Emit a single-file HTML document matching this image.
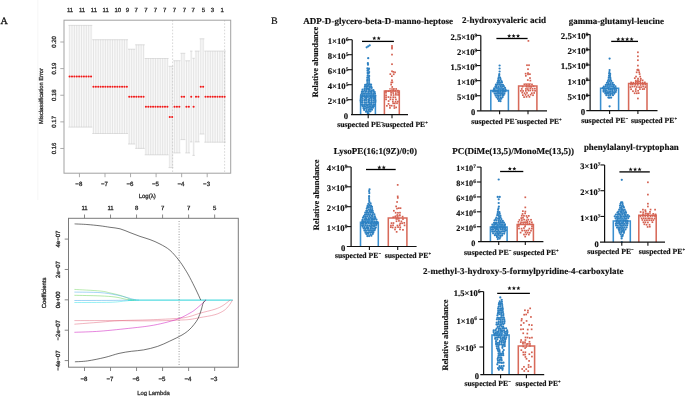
<!DOCTYPE html>
<html><head><meta charset="utf-8"><style>
html,body{margin:0;padding:0;background:#fff;}
svg{display:block;text-rendering:geometricPrecision;will-change:transform;}
g.tb text{stroke:#111;stroke-width:0.16px;}
</style></head><body>
<svg width="685" height="396" viewBox="0 0 685 396">
<rect width="685" height="396" fill="#fff"/>
<text x="4.2" y="23.9" style="font-family:'Liberation Serif',serif;font-size:10px;font-weight:normal" text-anchor="middle" fill="#111" stroke="#111" stroke-width="0.3">A</text>
<line x1="37.8" y1="0" x2="37.8" y2="200" stroke="#f4f4f4" stroke-width="0.8"/>
<rect x="68.41" y="25.4" width="23.85" height="101.7" fill="#f8f8f8"/>
<rect x="92.26" y="39.7" width="35.78" height="93.8" fill="#f8f8f8"/>
<rect x="128.03" y="49.2" width="7.16" height="94.8" fill="#f8f8f8"/>
<rect x="135.19" y="44.8" width="9.54" height="103.6" fill="#f8f8f8"/>
<rect x="144.73" y="58.5" width="23.85" height="96.3" fill="#f8f8f8"/>
<rect x="168.58" y="66.3" width="4.77" height="101.3" fill="#f8f8f8"/>
<rect x="173.35" y="60.7" width="7.16" height="92.2" fill="#f8f8f8"/>
<rect x="180.5" y="53.3" width="4.77" height="86.3" fill="#f8f8f8"/>
<rect x="185.27" y="60.8" width="4.77" height="92.1" fill="#f8f8f8"/>
<rect x="190.04" y="51.1" width="2.38" height="90.8" fill="#f8f8f8"/>
<rect x="192.43" y="58.3" width="2.38" height="97.1" fill="#f8f8f8"/>
<rect x="194.81" y="51.1" width="4.77" height="90.8" fill="#f8f8f8"/>
<rect x="199.58" y="38.8" width="4.77" height="95.2" fill="#f8f8f8"/>
<rect x="204.35" y="51.1" width="21.46" height="91.1" fill="#f8f8f8"/>
<line x1="69.6" y1="25.4" x2="69.6" y2="127.1" stroke="#d6d6d6" stroke-width="0.6"/>
<line x1="68.4" y1="25.4" x2="70.8" y2="25.4" stroke="#cfcfcf" stroke-width="0.7"/>
<line x1="68.4" y1="127.1" x2="70.8" y2="127.1" stroke="#cfcfcf" stroke-width="0.7"/>
<line x1="71.98" y1="25.4" x2="71.98" y2="127.1" stroke="#d6d6d6" stroke-width="0.6"/>
<line x1="70.78" y1="25.4" x2="73.19" y2="25.4" stroke="#cfcfcf" stroke-width="0.7"/>
<line x1="70.78" y1="127.1" x2="73.19" y2="127.1" stroke="#cfcfcf" stroke-width="0.7"/>
<line x1="74.37" y1="25.4" x2="74.37" y2="127.1" stroke="#d6d6d6" stroke-width="0.6"/>
<line x1="73.17" y1="25.4" x2="75.57" y2="25.4" stroke="#cfcfcf" stroke-width="0.7"/>
<line x1="73.17" y1="127.1" x2="75.57" y2="127.1" stroke="#cfcfcf" stroke-width="0.7"/>
<line x1="76.75" y1="25.4" x2="76.75" y2="127.1" stroke="#d6d6d6" stroke-width="0.6"/>
<line x1="75.55" y1="25.4" x2="77.95" y2="25.4" stroke="#cfcfcf" stroke-width="0.7"/>
<line x1="75.55" y1="127.1" x2="77.95" y2="127.1" stroke="#cfcfcf" stroke-width="0.7"/>
<line x1="79.14" y1="25.4" x2="79.14" y2="127.1" stroke="#d6d6d6" stroke-width="0.6"/>
<line x1="77.94" y1="25.4" x2="80.34" y2="25.4" stroke="#cfcfcf" stroke-width="0.7"/>
<line x1="77.94" y1="127.1" x2="80.34" y2="127.1" stroke="#cfcfcf" stroke-width="0.7"/>
<line x1="81.52" y1="25.4" x2="81.52" y2="127.1" stroke="#d6d6d6" stroke-width="0.6"/>
<line x1="80.32" y1="25.4" x2="82.72" y2="25.4" stroke="#cfcfcf" stroke-width="0.7"/>
<line x1="80.32" y1="127.1" x2="82.72" y2="127.1" stroke="#cfcfcf" stroke-width="0.7"/>
<line x1="83.91" y1="25.4" x2="83.91" y2="127.1" stroke="#d6d6d6" stroke-width="0.6"/>
<line x1="82.71" y1="25.4" x2="85.11" y2="25.4" stroke="#cfcfcf" stroke-width="0.7"/>
<line x1="82.71" y1="127.1" x2="85.11" y2="127.1" stroke="#cfcfcf" stroke-width="0.7"/>
<line x1="86.29" y1="25.4" x2="86.29" y2="127.1" stroke="#d6d6d6" stroke-width="0.6"/>
<line x1="85.09" y1="25.4" x2="87.49" y2="25.4" stroke="#cfcfcf" stroke-width="0.7"/>
<line x1="85.09" y1="127.1" x2="87.49" y2="127.1" stroke="#cfcfcf" stroke-width="0.7"/>
<line x1="88.68" y1="25.4" x2="88.68" y2="127.1" stroke="#d6d6d6" stroke-width="0.6"/>
<line x1="87.48" y1="25.4" x2="89.88" y2="25.4" stroke="#cfcfcf" stroke-width="0.7"/>
<line x1="87.48" y1="127.1" x2="89.88" y2="127.1" stroke="#cfcfcf" stroke-width="0.7"/>
<line x1="91.06" y1="25.4" x2="91.06" y2="127.1" stroke="#d6d6d6" stroke-width="0.6"/>
<line x1="89.86" y1="25.4" x2="92.27" y2="25.4" stroke="#cfcfcf" stroke-width="0.7"/>
<line x1="89.86" y1="127.1" x2="92.27" y2="127.1" stroke="#cfcfcf" stroke-width="0.7"/>
<line x1="93.45" y1="39.7" x2="93.45" y2="133.5" stroke="#d6d6d6" stroke-width="0.6"/>
<line x1="92.25" y1="39.7" x2="94.65" y2="39.7" stroke="#cfcfcf" stroke-width="0.7"/>
<line x1="92.25" y1="133.5" x2="94.65" y2="133.5" stroke="#cfcfcf" stroke-width="0.7"/>
<line x1="95.83" y1="39.7" x2="95.83" y2="133.5" stroke="#d6d6d6" stroke-width="0.6"/>
<line x1="94.63" y1="39.7" x2="97.03" y2="39.7" stroke="#cfcfcf" stroke-width="0.7"/>
<line x1="94.63" y1="133.5" x2="97.03" y2="133.5" stroke="#cfcfcf" stroke-width="0.7"/>
<line x1="98.22" y1="39.7" x2="98.22" y2="133.5" stroke="#d6d6d6" stroke-width="0.6"/>
<line x1="97.02" y1="39.7" x2="99.42" y2="39.7" stroke="#cfcfcf" stroke-width="0.7"/>
<line x1="97.02" y1="133.5" x2="99.42" y2="133.5" stroke="#cfcfcf" stroke-width="0.7"/>
<line x1="100.6" y1="39.7" x2="100.6" y2="133.5" stroke="#d6d6d6" stroke-width="0.6"/>
<line x1="99.4" y1="39.7" x2="101.8" y2="39.7" stroke="#cfcfcf" stroke-width="0.7"/>
<line x1="99.4" y1="133.5" x2="101.8" y2="133.5" stroke="#cfcfcf" stroke-width="0.7"/>
<line x1="102.99" y1="39.7" x2="102.99" y2="133.5" stroke="#d6d6d6" stroke-width="0.6"/>
<line x1="101.79" y1="39.7" x2="104.19" y2="39.7" stroke="#cfcfcf" stroke-width="0.7"/>
<line x1="101.79" y1="133.5" x2="104.19" y2="133.5" stroke="#cfcfcf" stroke-width="0.7"/>
<line x1="105.38" y1="39.7" x2="105.38" y2="133.5" stroke="#d6d6d6" stroke-width="0.6"/>
<line x1="104.17" y1="39.7" x2="106.58" y2="39.7" stroke="#cfcfcf" stroke-width="0.7"/>
<line x1="104.17" y1="133.5" x2="106.58" y2="133.5" stroke="#cfcfcf" stroke-width="0.7"/>
<line x1="107.76" y1="39.7" x2="107.76" y2="133.5" stroke="#d6d6d6" stroke-width="0.6"/>
<line x1="106.56" y1="39.7" x2="108.96" y2="39.7" stroke="#cfcfcf" stroke-width="0.7"/>
<line x1="106.56" y1="133.5" x2="108.96" y2="133.5" stroke="#cfcfcf" stroke-width="0.7"/>
<line x1="110.14" y1="39.7" x2="110.14" y2="133.5" stroke="#d6d6d6" stroke-width="0.6"/>
<line x1="108.94" y1="39.7" x2="111.34" y2="39.7" stroke="#cfcfcf" stroke-width="0.7"/>
<line x1="108.94" y1="133.5" x2="111.34" y2="133.5" stroke="#cfcfcf" stroke-width="0.7"/>
<line x1="112.53" y1="39.7" x2="112.53" y2="133.5" stroke="#d6d6d6" stroke-width="0.6"/>
<line x1="111.33" y1="39.7" x2="113.73" y2="39.7" stroke="#cfcfcf" stroke-width="0.7"/>
<line x1="111.33" y1="133.5" x2="113.73" y2="133.5" stroke="#cfcfcf" stroke-width="0.7"/>
<line x1="114.91" y1="39.7" x2="114.91" y2="133.5" stroke="#d6d6d6" stroke-width="0.6"/>
<line x1="113.71" y1="39.7" x2="116.11" y2="39.7" stroke="#cfcfcf" stroke-width="0.7"/>
<line x1="113.71" y1="133.5" x2="116.11" y2="133.5" stroke="#cfcfcf" stroke-width="0.7"/>
<line x1="117.3" y1="39.7" x2="117.3" y2="133.5" stroke="#d6d6d6" stroke-width="0.6"/>
<line x1="116.1" y1="39.7" x2="118.5" y2="39.7" stroke="#cfcfcf" stroke-width="0.7"/>
<line x1="116.1" y1="133.5" x2="118.5" y2="133.5" stroke="#cfcfcf" stroke-width="0.7"/>
<line x1="119.68" y1="39.7" x2="119.68" y2="133.5" stroke="#d6d6d6" stroke-width="0.6"/>
<line x1="118.48" y1="39.7" x2="120.88" y2="39.7" stroke="#cfcfcf" stroke-width="0.7"/>
<line x1="118.48" y1="133.5" x2="120.88" y2="133.5" stroke="#cfcfcf" stroke-width="0.7"/>
<line x1="122.07" y1="39.7" x2="122.07" y2="133.5" stroke="#d6d6d6" stroke-width="0.6"/>
<line x1="120.87" y1="39.7" x2="123.27" y2="39.7" stroke="#cfcfcf" stroke-width="0.7"/>
<line x1="120.87" y1="133.5" x2="123.27" y2="133.5" stroke="#cfcfcf" stroke-width="0.7"/>
<line x1="124.45" y1="39.7" x2="124.45" y2="133.5" stroke="#d6d6d6" stroke-width="0.6"/>
<line x1="123.25" y1="39.7" x2="125.65" y2="39.7" stroke="#cfcfcf" stroke-width="0.7"/>
<line x1="123.25" y1="133.5" x2="125.65" y2="133.5" stroke="#cfcfcf" stroke-width="0.7"/>
<line x1="126.84" y1="39.7" x2="126.84" y2="133.5" stroke="#d6d6d6" stroke-width="0.6"/>
<line x1="125.64" y1="39.7" x2="128.04" y2="39.7" stroke="#cfcfcf" stroke-width="0.7"/>
<line x1="125.64" y1="133.5" x2="128.04" y2="133.5" stroke="#cfcfcf" stroke-width="0.7"/>
<line x1="129.22" y1="49.2" x2="129.22" y2="144" stroke="#d6d6d6" stroke-width="0.6"/>
<line x1="128.03" y1="49.2" x2="130.42" y2="49.2" stroke="#cfcfcf" stroke-width="0.7"/>
<line x1="128.03" y1="144" x2="130.42" y2="144" stroke="#cfcfcf" stroke-width="0.7"/>
<line x1="131.61" y1="49.2" x2="131.61" y2="144" stroke="#d6d6d6" stroke-width="0.6"/>
<line x1="130.41" y1="49.2" x2="132.81" y2="49.2" stroke="#cfcfcf" stroke-width="0.7"/>
<line x1="130.41" y1="144" x2="132.81" y2="144" stroke="#cfcfcf" stroke-width="0.7"/>
<line x1="134" y1="49.2" x2="134" y2="144" stroke="#d6d6d6" stroke-width="0.6"/>
<line x1="132.8" y1="49.2" x2="135.19" y2="49.2" stroke="#cfcfcf" stroke-width="0.7"/>
<line x1="132.8" y1="144" x2="135.19" y2="144" stroke="#cfcfcf" stroke-width="0.7"/>
<line x1="136.38" y1="44.8" x2="136.38" y2="148.4" stroke="#d6d6d6" stroke-width="0.6"/>
<line x1="135.18" y1="44.8" x2="137.58" y2="44.8" stroke="#cfcfcf" stroke-width="0.7"/>
<line x1="135.18" y1="148.4" x2="137.58" y2="148.4" stroke="#cfcfcf" stroke-width="0.7"/>
<line x1="138.76" y1="44.8" x2="138.76" y2="148.4" stroke="#d6d6d6" stroke-width="0.6"/>
<line x1="137.56" y1="44.8" x2="139.96" y2="44.8" stroke="#cfcfcf" stroke-width="0.7"/>
<line x1="137.56" y1="148.4" x2="139.96" y2="148.4" stroke="#cfcfcf" stroke-width="0.7"/>
<line x1="141.15" y1="44.8" x2="141.15" y2="148.4" stroke="#d6d6d6" stroke-width="0.6"/>
<line x1="139.95" y1="44.8" x2="142.35" y2="44.8" stroke="#cfcfcf" stroke-width="0.7"/>
<line x1="139.95" y1="148.4" x2="142.35" y2="148.4" stroke="#cfcfcf" stroke-width="0.7"/>
<line x1="143.53" y1="44.8" x2="143.53" y2="148.4" stroke="#d6d6d6" stroke-width="0.6"/>
<line x1="142.33" y1="44.8" x2="144.73" y2="44.8" stroke="#cfcfcf" stroke-width="0.7"/>
<line x1="142.33" y1="148.4" x2="144.73" y2="148.4" stroke="#cfcfcf" stroke-width="0.7"/>
<line x1="145.92" y1="58.5" x2="145.92" y2="154.8" stroke="#d6d6d6" stroke-width="0.6"/>
<line x1="144.72" y1="58.5" x2="147.12" y2="58.5" stroke="#cfcfcf" stroke-width="0.7"/>
<line x1="144.72" y1="154.8" x2="147.12" y2="154.8" stroke="#cfcfcf" stroke-width="0.7"/>
<line x1="148.31" y1="58.5" x2="148.31" y2="154.8" stroke="#d6d6d6" stroke-width="0.6"/>
<line x1="147.11" y1="58.5" x2="149.5" y2="58.5" stroke="#cfcfcf" stroke-width="0.7"/>
<line x1="147.11" y1="154.8" x2="149.5" y2="154.8" stroke="#cfcfcf" stroke-width="0.7"/>
<line x1="150.69" y1="58.5" x2="150.69" y2="154.8" stroke="#d6d6d6" stroke-width="0.6"/>
<line x1="149.49" y1="58.5" x2="151.89" y2="58.5" stroke="#cfcfcf" stroke-width="0.7"/>
<line x1="149.49" y1="154.8" x2="151.89" y2="154.8" stroke="#cfcfcf" stroke-width="0.7"/>
<line x1="153.07" y1="58.5" x2="153.07" y2="154.8" stroke="#d6d6d6" stroke-width="0.6"/>
<line x1="151.88" y1="58.5" x2="154.27" y2="58.5" stroke="#cfcfcf" stroke-width="0.7"/>
<line x1="151.88" y1="154.8" x2="154.27" y2="154.8" stroke="#cfcfcf" stroke-width="0.7"/>
<line x1="155.46" y1="58.5" x2="155.46" y2="154.8" stroke="#d6d6d6" stroke-width="0.6"/>
<line x1="154.26" y1="58.5" x2="156.66" y2="58.5" stroke="#cfcfcf" stroke-width="0.7"/>
<line x1="154.26" y1="154.8" x2="156.66" y2="154.8" stroke="#cfcfcf" stroke-width="0.7"/>
<line x1="157.84" y1="58.5" x2="157.84" y2="154.8" stroke="#d6d6d6" stroke-width="0.6"/>
<line x1="156.64" y1="58.5" x2="159.04" y2="58.5" stroke="#cfcfcf" stroke-width="0.7"/>
<line x1="156.64" y1="154.8" x2="159.04" y2="154.8" stroke="#cfcfcf" stroke-width="0.7"/>
<line x1="160.23" y1="58.5" x2="160.23" y2="154.8" stroke="#d6d6d6" stroke-width="0.6"/>
<line x1="159.03" y1="58.5" x2="161.43" y2="58.5" stroke="#cfcfcf" stroke-width="0.7"/>
<line x1="159.03" y1="154.8" x2="161.43" y2="154.8" stroke="#cfcfcf" stroke-width="0.7"/>
<line x1="162.61" y1="58.5" x2="162.61" y2="154.8" stroke="#d6d6d6" stroke-width="0.6"/>
<line x1="161.41" y1="58.5" x2="163.81" y2="58.5" stroke="#cfcfcf" stroke-width="0.7"/>
<line x1="161.41" y1="154.8" x2="163.81" y2="154.8" stroke="#cfcfcf" stroke-width="0.7"/>
<line x1="165" y1="58.5" x2="165" y2="154.8" stroke="#d6d6d6" stroke-width="0.6"/>
<line x1="163.8" y1="58.5" x2="166.2" y2="58.5" stroke="#cfcfcf" stroke-width="0.7"/>
<line x1="163.8" y1="154.8" x2="166.2" y2="154.8" stroke="#cfcfcf" stroke-width="0.7"/>
<line x1="167.38" y1="58.5" x2="167.38" y2="154.8" stroke="#d6d6d6" stroke-width="0.6"/>
<line x1="166.19" y1="58.5" x2="168.58" y2="58.5" stroke="#cfcfcf" stroke-width="0.7"/>
<line x1="166.19" y1="154.8" x2="168.58" y2="154.8" stroke="#cfcfcf" stroke-width="0.7"/>
<line x1="169.77" y1="66.3" x2="169.77" y2="167.6" stroke="#d6d6d6" stroke-width="0.6"/>
<line x1="168.57" y1="66.3" x2="170.97" y2="66.3" stroke="#cfcfcf" stroke-width="0.7"/>
<line x1="168.57" y1="167.6" x2="170.97" y2="167.6" stroke="#cfcfcf" stroke-width="0.7"/>
<line x1="172.15" y1="66.3" x2="172.15" y2="167.6" stroke="#d6d6d6" stroke-width="0.6"/>
<line x1="170.95" y1="66.3" x2="173.35" y2="66.3" stroke="#cfcfcf" stroke-width="0.7"/>
<line x1="170.95" y1="167.6" x2="173.35" y2="167.6" stroke="#cfcfcf" stroke-width="0.7"/>
<line x1="174.54" y1="60.7" x2="174.54" y2="152.9" stroke="#d6d6d6" stroke-width="0.6"/>
<line x1="173.34" y1="60.7" x2="175.74" y2="60.7" stroke="#cfcfcf" stroke-width="0.7"/>
<line x1="173.34" y1="152.9" x2="175.74" y2="152.9" stroke="#cfcfcf" stroke-width="0.7"/>
<line x1="176.92" y1="60.7" x2="176.92" y2="152.9" stroke="#d6d6d6" stroke-width="0.6"/>
<line x1="175.72" y1="60.7" x2="178.12" y2="60.7" stroke="#cfcfcf" stroke-width="0.7"/>
<line x1="175.72" y1="152.9" x2="178.12" y2="152.9" stroke="#cfcfcf" stroke-width="0.7"/>
<line x1="179.31" y1="60.7" x2="179.31" y2="152.9" stroke="#d6d6d6" stroke-width="0.6"/>
<line x1="178.11" y1="60.7" x2="180.51" y2="60.7" stroke="#cfcfcf" stroke-width="0.7"/>
<line x1="178.11" y1="152.9" x2="180.51" y2="152.9" stroke="#cfcfcf" stroke-width="0.7"/>
<line x1="181.69" y1="53.3" x2="181.69" y2="139.6" stroke="#d6d6d6" stroke-width="0.6"/>
<line x1="180.5" y1="53.3" x2="182.89" y2="53.3" stroke="#cfcfcf" stroke-width="0.7"/>
<line x1="180.5" y1="139.6" x2="182.89" y2="139.6" stroke="#cfcfcf" stroke-width="0.7"/>
<line x1="184.08" y1="53.3" x2="184.08" y2="139.6" stroke="#d6d6d6" stroke-width="0.6"/>
<line x1="182.88" y1="53.3" x2="185.28" y2="53.3" stroke="#cfcfcf" stroke-width="0.7"/>
<line x1="182.88" y1="139.6" x2="185.28" y2="139.6" stroke="#cfcfcf" stroke-width="0.7"/>
<line x1="186.46" y1="60.8" x2="186.46" y2="152.9" stroke="#d6d6d6" stroke-width="0.6"/>
<line x1="185.26" y1="60.8" x2="187.66" y2="60.8" stroke="#cfcfcf" stroke-width="0.7"/>
<line x1="185.26" y1="152.9" x2="187.66" y2="152.9" stroke="#cfcfcf" stroke-width="0.7"/>
<line x1="188.85" y1="60.8" x2="188.85" y2="152.9" stroke="#d6d6d6" stroke-width="0.6"/>
<line x1="187.65" y1="60.8" x2="190.05" y2="60.8" stroke="#cfcfcf" stroke-width="0.7"/>
<line x1="187.65" y1="152.9" x2="190.05" y2="152.9" stroke="#cfcfcf" stroke-width="0.7"/>
<line x1="191.23" y1="51.1" x2="191.23" y2="141.9" stroke="#d6d6d6" stroke-width="0.6"/>
<line x1="190.03" y1="51.1" x2="192.43" y2="51.1" stroke="#cfcfcf" stroke-width="0.7"/>
<line x1="190.03" y1="141.9" x2="192.43" y2="141.9" stroke="#cfcfcf" stroke-width="0.7"/>
<line x1="193.62" y1="58.3" x2="193.62" y2="155.4" stroke="#d6d6d6" stroke-width="0.6"/>
<line x1="192.42" y1="58.3" x2="194.82" y2="58.3" stroke="#cfcfcf" stroke-width="0.7"/>
<line x1="192.42" y1="155.4" x2="194.82" y2="155.4" stroke="#cfcfcf" stroke-width="0.7"/>
<line x1="196" y1="51.1" x2="196" y2="141.9" stroke="#d6d6d6" stroke-width="0.6"/>
<line x1="194.81" y1="51.1" x2="197.2" y2="51.1" stroke="#cfcfcf" stroke-width="0.7"/>
<line x1="194.81" y1="141.9" x2="197.2" y2="141.9" stroke="#cfcfcf" stroke-width="0.7"/>
<line x1="198.39" y1="51.1" x2="198.39" y2="141.9" stroke="#d6d6d6" stroke-width="0.6"/>
<line x1="197.19" y1="51.1" x2="199.59" y2="51.1" stroke="#cfcfcf" stroke-width="0.7"/>
<line x1="197.19" y1="141.9" x2="199.59" y2="141.9" stroke="#cfcfcf" stroke-width="0.7"/>
<line x1="200.77" y1="38.8" x2="200.77" y2="134" stroke="#d6d6d6" stroke-width="0.6"/>
<line x1="199.57" y1="38.8" x2="201.97" y2="38.8" stroke="#cfcfcf" stroke-width="0.7"/>
<line x1="199.57" y1="134" x2="201.97" y2="134" stroke="#cfcfcf" stroke-width="0.7"/>
<line x1="203.16" y1="38.8" x2="203.16" y2="134" stroke="#d6d6d6" stroke-width="0.6"/>
<line x1="201.96" y1="38.8" x2="204.36" y2="38.8" stroke="#cfcfcf" stroke-width="0.7"/>
<line x1="201.96" y1="134" x2="204.36" y2="134" stroke="#cfcfcf" stroke-width="0.7"/>
<line x1="205.54" y1="51.1" x2="205.54" y2="142.2" stroke="#d6d6d6" stroke-width="0.6"/>
<line x1="204.34" y1="51.1" x2="206.74" y2="51.1" stroke="#cfcfcf" stroke-width="0.7"/>
<line x1="204.34" y1="142.2" x2="206.74" y2="142.2" stroke="#cfcfcf" stroke-width="0.7"/>
<line x1="207.93" y1="51.1" x2="207.93" y2="142.2" stroke="#d6d6d6" stroke-width="0.6"/>
<line x1="206.73" y1="51.1" x2="209.13" y2="51.1" stroke="#cfcfcf" stroke-width="0.7"/>
<line x1="206.73" y1="142.2" x2="209.13" y2="142.2" stroke="#cfcfcf" stroke-width="0.7"/>
<line x1="210.31" y1="51.1" x2="210.31" y2="142.2" stroke="#d6d6d6" stroke-width="0.6"/>
<line x1="209.11" y1="51.1" x2="211.51" y2="51.1" stroke="#cfcfcf" stroke-width="0.7"/>
<line x1="209.11" y1="142.2" x2="211.51" y2="142.2" stroke="#cfcfcf" stroke-width="0.7"/>
<line x1="212.7" y1="51.1" x2="212.7" y2="142.2" stroke="#d6d6d6" stroke-width="0.6"/>
<line x1="211.5" y1="51.1" x2="213.9" y2="51.1" stroke="#cfcfcf" stroke-width="0.7"/>
<line x1="211.5" y1="142.2" x2="213.9" y2="142.2" stroke="#cfcfcf" stroke-width="0.7"/>
<line x1="215.08" y1="51.1" x2="215.08" y2="142.2" stroke="#d6d6d6" stroke-width="0.6"/>
<line x1="213.88" y1="51.1" x2="216.28" y2="51.1" stroke="#cfcfcf" stroke-width="0.7"/>
<line x1="213.88" y1="142.2" x2="216.28" y2="142.2" stroke="#cfcfcf" stroke-width="0.7"/>
<line x1="217.47" y1="51.1" x2="217.47" y2="142.2" stroke="#d6d6d6" stroke-width="0.6"/>
<line x1="216.27" y1="51.1" x2="218.67" y2="51.1" stroke="#cfcfcf" stroke-width="0.7"/>
<line x1="216.27" y1="142.2" x2="218.67" y2="142.2" stroke="#cfcfcf" stroke-width="0.7"/>
<line x1="219.85" y1="51.1" x2="219.85" y2="142.2" stroke="#d6d6d6" stroke-width="0.6"/>
<line x1="218.66" y1="51.1" x2="221.05" y2="51.1" stroke="#cfcfcf" stroke-width="0.7"/>
<line x1="218.66" y1="142.2" x2="221.05" y2="142.2" stroke="#cfcfcf" stroke-width="0.7"/>
<line x1="222.24" y1="51.1" x2="222.24" y2="142.2" stroke="#d6d6d6" stroke-width="0.6"/>
<line x1="221.04" y1="51.1" x2="223.44" y2="51.1" stroke="#cfcfcf" stroke-width="0.7"/>
<line x1="221.04" y1="142.2" x2="223.44" y2="142.2" stroke="#cfcfcf" stroke-width="0.7"/>
<line x1="224.62" y1="51.1" x2="224.62" y2="142.2" stroke="#d6d6d6" stroke-width="0.6"/>
<line x1="223.42" y1="51.1" x2="225.82" y2="51.1" stroke="#cfcfcf" stroke-width="0.7"/>
<line x1="223.42" y1="142.2" x2="225.82" y2="142.2" stroke="#cfcfcf" stroke-width="0.7"/>
<line x1="172.6" y1="20" x2="172.6" y2="173.2" stroke="#b8b8b8" stroke-width="0.55" stroke-dasharray="1.6,1.6"/>
<line x1="224.6" y1="20" x2="224.6" y2="173.2" stroke="#b8b8b8" stroke-width="0.55" stroke-dasharray="1.6,1.6"/>
<circle cx="69.6" cy="76.5" r="1.05" fill="#f21818"/>
<circle cx="71.98" cy="76.5" r="1.05" fill="#f21818"/>
<circle cx="74.37" cy="76.5" r="1.05" fill="#f21818"/>
<circle cx="76.75" cy="76.5" r="1.05" fill="#f21818"/>
<circle cx="79.14" cy="76.5" r="1.05" fill="#f21818"/>
<circle cx="81.52" cy="76.5" r="1.05" fill="#f21818"/>
<circle cx="83.91" cy="76.5" r="1.05" fill="#f21818"/>
<circle cx="86.29" cy="76.5" r="1.05" fill="#f21818"/>
<circle cx="88.68" cy="76.5" r="1.05" fill="#f21818"/>
<circle cx="91.06" cy="76.5" r="1.05" fill="#f21818"/>
<circle cx="93.45" cy="86.7" r="1.05" fill="#f21818"/>
<circle cx="95.83" cy="86.7" r="1.05" fill="#f21818"/>
<circle cx="98.22" cy="86.7" r="1.05" fill="#f21818"/>
<circle cx="100.6" cy="86.7" r="1.05" fill="#f21818"/>
<circle cx="102.99" cy="86.7" r="1.05" fill="#f21818"/>
<circle cx="105.38" cy="86.7" r="1.05" fill="#f21818"/>
<circle cx="107.76" cy="86.7" r="1.05" fill="#f21818"/>
<circle cx="110.14" cy="86.7" r="1.05" fill="#f21818"/>
<circle cx="112.53" cy="86.7" r="1.05" fill="#f21818"/>
<circle cx="114.91" cy="86.7" r="1.05" fill="#f21818"/>
<circle cx="117.3" cy="86.7" r="1.05" fill="#f21818"/>
<circle cx="119.68" cy="86.7" r="1.05" fill="#f21818"/>
<circle cx="122.07" cy="86.7" r="1.05" fill="#f21818"/>
<circle cx="124.45" cy="86.7" r="1.05" fill="#f21818"/>
<circle cx="126.84" cy="86.7" r="1.05" fill="#f21818"/>
<circle cx="129.22" cy="96.7" r="1.05" fill="#f21818"/>
<circle cx="131.61" cy="96.7" r="1.05" fill="#f21818"/>
<circle cx="134" cy="96.7" r="1.05" fill="#f21818"/>
<circle cx="136.38" cy="96.7" r="1.05" fill="#f21818"/>
<circle cx="138.76" cy="96.7" r="1.05" fill="#f21818"/>
<circle cx="141.15" cy="96.7" r="1.05" fill="#f21818"/>
<circle cx="143.53" cy="96.7" r="1.05" fill="#f21818"/>
<circle cx="145.92" cy="106.8" r="1.05" fill="#f21818"/>
<circle cx="148.31" cy="106.8" r="1.05" fill="#f21818"/>
<circle cx="150.69" cy="106.8" r="1.05" fill="#f21818"/>
<circle cx="153.07" cy="106.8" r="1.05" fill="#f21818"/>
<circle cx="155.46" cy="106.8" r="1.05" fill="#f21818"/>
<circle cx="157.84" cy="106.8" r="1.05" fill="#f21818"/>
<circle cx="160.23" cy="106.8" r="1.05" fill="#f21818"/>
<circle cx="162.61" cy="106.8" r="1.05" fill="#f21818"/>
<circle cx="165" cy="106.8" r="1.05" fill="#f21818"/>
<circle cx="167.38" cy="106.8" r="1.05" fill="#f21818"/>
<circle cx="169.77" cy="117" r="1.05" fill="#f21818"/>
<circle cx="172.15" cy="117" r="1.05" fill="#f21818"/>
<circle cx="174.54" cy="106.8" r="1.05" fill="#f21818"/>
<circle cx="176.92" cy="106.8" r="1.05" fill="#f21818"/>
<circle cx="179.31" cy="106.8" r="1.05" fill="#f21818"/>
<circle cx="181.69" cy="96.7" r="1.05" fill="#f21818"/>
<circle cx="184.08" cy="96.7" r="1.05" fill="#f21818"/>
<circle cx="186.46" cy="106.8" r="1.05" fill="#f21818"/>
<circle cx="188.85" cy="106.8" r="1.05" fill="#f21818"/>
<circle cx="191.23" cy="96.7" r="1.05" fill="#f21818"/>
<circle cx="193.62" cy="106.8" r="1.05" fill="#f21818"/>
<circle cx="196" cy="96.7" r="1.05" fill="#f21818"/>
<circle cx="198.39" cy="96.7" r="1.05" fill="#f21818"/>
<circle cx="200.77" cy="86.7" r="1.05" fill="#f21818"/>
<circle cx="203.16" cy="86.7" r="1.05" fill="#f21818"/>
<circle cx="205.54" cy="96.7" r="1.05" fill="#f21818"/>
<circle cx="207.93" cy="96.7" r="1.05" fill="#f21818"/>
<circle cx="210.31" cy="96.7" r="1.05" fill="#f21818"/>
<circle cx="212.7" cy="96.7" r="1.05" fill="#f21818"/>
<circle cx="215.08" cy="96.7" r="1.05" fill="#f21818"/>
<circle cx="217.47" cy="96.7" r="1.05" fill="#f21818"/>
<circle cx="219.85" cy="96.7" r="1.05" fill="#f21818"/>
<circle cx="222.24" cy="96.7" r="1.05" fill="#f21818"/>
<circle cx="224.62" cy="96.7" r="1.05" fill="#f21818"/>
<rect x="64.0" y="20.2" width="166.7" height="153" fill="none" stroke="#a2a2a2" stroke-width="1"/>
<line x1="79.45" y1="173.2" x2="79.45" y2="177.2" stroke="#a2a2a2" stroke-width="0.9"/>
<text x="78.85" y="186.2" style="font-family:'Liberation Sans',sans-serif;font-size:6.1px;font-weight:normal" text-anchor="middle" fill="#2e2e2e" stroke="#2e2e2e" stroke-width="0.3">−8</text>
<line x1="105" y1="173.2" x2="105" y2="177.2" stroke="#a2a2a2" stroke-width="0.9"/>
<text x="104.4" y="186.2" style="font-family:'Liberation Sans',sans-serif;font-size:6.1px;font-weight:normal" text-anchor="middle" fill="#2e2e2e" stroke="#2e2e2e" stroke-width="0.3">−7</text>
<line x1="130.55" y1="173.2" x2="130.55" y2="177.2" stroke="#a2a2a2" stroke-width="0.9"/>
<text x="129.95" y="186.2" style="font-family:'Liberation Sans',sans-serif;font-size:6.1px;font-weight:normal" text-anchor="middle" fill="#2e2e2e" stroke="#2e2e2e" stroke-width="0.3">−6</text>
<line x1="156.1" y1="173.2" x2="156.1" y2="177.2" stroke="#a2a2a2" stroke-width="0.9"/>
<text x="155.5" y="186.2" style="font-family:'Liberation Sans',sans-serif;font-size:6.1px;font-weight:normal" text-anchor="middle" fill="#2e2e2e" stroke="#2e2e2e" stroke-width="0.3">−5</text>
<line x1="181.65" y1="173.2" x2="181.65" y2="177.2" stroke="#a2a2a2" stroke-width="0.9"/>
<text x="181.05" y="186.2" style="font-family:'Liberation Sans',sans-serif;font-size:6.1px;font-weight:normal" text-anchor="middle" fill="#2e2e2e" stroke="#2e2e2e" stroke-width="0.3">−4</text>
<line x1="207.2" y1="173.2" x2="207.2" y2="177.2" stroke="#a2a2a2" stroke-width="0.9"/>
<text x="206.6" y="186.2" style="font-family:'Liberation Sans',sans-serif;font-size:6.1px;font-weight:normal" text-anchor="middle" fill="#2e2e2e" stroke="#2e2e2e" stroke-width="0.3">−3</text>
<line x1="60.3" y1="42" x2="64" y2="42" stroke="#a2a2a2" stroke-width="0.9"/>
<text x="56" y="42" style="font-family:'Liberation Sans',sans-serif;font-size:6.0px;font-weight:normal" text-anchor="middle" fill="#2e2e2e" transform="rotate(-90 56 42)" stroke="#2e2e2e" stroke-width="0.3">0.20</text>
<line x1="60.3" y1="68.62" x2="64" y2="68.62" stroke="#a2a2a2" stroke-width="0.9"/>
<text x="56" y="68.62" style="font-family:'Liberation Sans',sans-serif;font-size:6.0px;font-weight:normal" text-anchor="middle" fill="#2e2e2e" transform="rotate(-90 56 68.62)" stroke="#2e2e2e" stroke-width="0.3">0.19</text>
<line x1="60.3" y1="95.24" x2="64" y2="95.24" stroke="#a2a2a2" stroke-width="0.9"/>
<text x="56" y="95.24" style="font-family:'Liberation Sans',sans-serif;font-size:6.0px;font-weight:normal" text-anchor="middle" fill="#2e2e2e" transform="rotate(-90 56 95.24)" stroke="#2e2e2e" stroke-width="0.3">0.18</text>
<line x1="60.3" y1="121.86" x2="64" y2="121.86" stroke="#a2a2a2" stroke-width="0.9"/>
<text x="56" y="121.86" style="font-family:'Liberation Sans',sans-serif;font-size:6.0px;font-weight:normal" text-anchor="middle" fill="#2e2e2e" transform="rotate(-90 56 121.86)" stroke="#2e2e2e" stroke-width="0.3">0.17</text>
<line x1="60.3" y1="148.48" x2="64" y2="148.48" stroke="#a2a2a2" stroke-width="0.9"/>
<text x="56" y="148.48" style="font-family:'Liberation Sans',sans-serif;font-size:6.0px;font-weight:normal" text-anchor="middle" fill="#2e2e2e" transform="rotate(-90 56 148.48)" stroke="#2e2e2e" stroke-width="0.3">0.16</text>
<text x="42.6" y="96" style="font-family:'Liberation Sans',sans-serif;font-size:5.8px;font-weight:normal" text-anchor="middle" fill="#2e2e2e" transform="rotate(-90 42.6 96)" textLength="56" lengthAdjust="spacingAndGlyphs" stroke="#2e2e2e" stroke-width="0.3">Misclassification Error</text>
<text x="147.2" y="198" style="font-family:'Liberation Sans',sans-serif;font-size:6.0px;font-weight:normal" text-anchor="middle" fill="#2e2e2e" stroke="#2e2e2e" stroke-width="0.3">Log(λ)</text>
<text x="70.1" y="12.3" style="font-family:'Liberation Sans',sans-serif;font-size:6.0px;font-weight:normal" text-anchor="middle" fill="#2e2e2e" stroke="#2e2e2e" stroke-width="0.3">11</text>
<text x="82.1" y="12.3" style="font-family:'Liberation Sans',sans-serif;font-size:6.0px;font-weight:normal" text-anchor="middle" fill="#2e2e2e" stroke="#2e2e2e" stroke-width="0.3">11</text>
<text x="93.9" y="12.3" style="font-family:'Liberation Sans',sans-serif;font-size:6.0px;font-weight:normal" text-anchor="middle" fill="#2e2e2e" stroke="#2e2e2e" stroke-width="0.3">11</text>
<text x="105.7" y="12.3" style="font-family:'Liberation Sans',sans-serif;font-size:6.0px;font-weight:normal" text-anchor="middle" fill="#2e2e2e" stroke="#2e2e2e" stroke-width="0.3">11</text>
<text x="117.8" y="12.3" style="font-family:'Liberation Sans',sans-serif;font-size:6.0px;font-weight:normal" text-anchor="middle" fill="#2e2e2e" stroke="#2e2e2e" stroke-width="0.3">10</text>
<text x="127.3" y="12.3" style="font-family:'Liberation Sans',sans-serif;font-size:6.0px;font-weight:normal" text-anchor="middle" fill="#2e2e2e" stroke="#2e2e2e" stroke-width="0.3">9</text>
<text x="136.2" y="12.3" style="font-family:'Liberation Sans',sans-serif;font-size:6.0px;font-weight:normal" text-anchor="middle" fill="#2e2e2e" stroke="#2e2e2e" stroke-width="0.3">7</text>
<text x="145.8" y="12.3" style="font-family:'Liberation Sans',sans-serif;font-size:6.0px;font-weight:normal" text-anchor="middle" fill="#2e2e2e" stroke="#2e2e2e" stroke-width="0.3">7</text>
<text x="155.5" y="12.3" style="font-family:'Liberation Sans',sans-serif;font-size:6.0px;font-weight:normal" text-anchor="middle" fill="#2e2e2e" stroke="#2e2e2e" stroke-width="0.3">7</text>
<text x="164.7" y="12.3" style="font-family:'Liberation Sans',sans-serif;font-size:6.0px;font-weight:normal" text-anchor="middle" fill="#2e2e2e" stroke="#2e2e2e" stroke-width="0.3">7</text>
<text x="174.4" y="12.3" style="font-family:'Liberation Sans',sans-serif;font-size:6.0px;font-weight:normal" text-anchor="middle" fill="#2e2e2e" stroke="#2e2e2e" stroke-width="0.3">7</text>
<text x="184.3" y="12.3" style="font-family:'Liberation Sans',sans-serif;font-size:6.0px;font-weight:normal" text-anchor="middle" fill="#2e2e2e" stroke="#2e2e2e" stroke-width="0.3">7</text>
<text x="193.2" y="12.3" style="font-family:'Liberation Sans',sans-serif;font-size:6.0px;font-weight:normal" text-anchor="middle" fill="#2e2e2e" stroke="#2e2e2e" stroke-width="0.3">7</text>
<text x="203.3" y="12.3" style="font-family:'Liberation Sans',sans-serif;font-size:6.0px;font-weight:normal" text-anchor="middle" fill="#2e2e2e" stroke="#2e2e2e" stroke-width="0.3">5</text>
<text x="212.5" y="12.3" style="font-family:'Liberation Sans',sans-serif;font-size:6.0px;font-weight:normal" text-anchor="middle" fill="#2e2e2e" stroke="#2e2e2e" stroke-width="0.3">3</text>
<text x="222.1" y="12.3" style="font-family:'Liberation Sans',sans-serif;font-size:6.0px;font-weight:normal" text-anchor="middle" fill="#2e2e2e" stroke="#2e2e2e" stroke-width="0.3">1</text>
<path d="M74.4,289.4 C78.67,289.67 94.07,290.42 100,291 C105.93,291.58 106.67,292.18 110,292.9 C113.33,293.62 117,294.42 120,295.3 C123,296.18 126,297.42 128,298.2 C130,298.98 130.67,299.68 132,300 C133.33,300.32 135.33,300.08 136,300.1" fill="none" stroke="#61D04F" stroke-width="0.8" stroke-opacity="0.55"/>
<path d="M74.4,292.1 C78.67,292.18 93.23,292.17 100,292.6 C106.77,293.03 110.83,293.97 115,294.7 C119.17,295.43 121.67,296.17 125,297 C128.33,297.83 132.67,299.18 135,299.7 C137.33,300.22 138.33,300.03 139,300.1" fill="none" stroke="#2297E6" stroke-width="0.8" stroke-opacity="0.5"/>
<path d="M74.4,295.3 C78.67,295.4 93.23,295.62 100,295.9 C106.77,296.18 110.83,296.47 115,297 C119.17,297.53 122.5,298.6 125,299.1 C127.5,299.6 128.5,299.83 130,300 C131.5,300.17 133.33,300.08 134,300.1" fill="none" stroke="#61D04F" stroke-width="0.8" stroke-opacity="0.6"/>
<path d="M74.4,300.5 C80.33,300.48 101.07,300.45 110,300.4 C118.93,300.35 125,300.23 128,300.2" fill="none" stroke="#2297E6" stroke-width="0.8" stroke-opacity="0.55"/>
<path d="M74.4,302.5 C80.33,302.47 101.57,302.55 110,302.3 C118.43,302.05 121.33,301.35 125,301 C128.67,300.65 130.83,300.33 132,300.2" fill="none" stroke="#28E2E5" stroke-width="0.8" stroke-opacity="0.6"/>
<line x1="128" y1="300.1" x2="232.8" y2="300.1" stroke="#28D2D8" stroke-width="1.0"/>
<path d="M74.4,320.6 C80.33,320.6 97.4,320.55 110,320.6 C122.6,320.65 138.5,320.98 150,320.9 C161.5,320.82 172.33,320.35 179,320.1 C185.67,319.85 186.5,319.82 190,319.4 C193.5,318.98 195.83,318.38 200,317.6 C204.17,316.82 211,315.88 215,314.7 C219,313.52 221.67,312.03 224,310.5 C226.33,308.97 227.58,307.25 229,305.5 C230.42,303.75 231.92,300.92 232.5,300" fill="none" stroke="#DF536B" stroke-width="0.8" stroke-opacity="0.55"/>
<path d="M74.4,324.2 C78.67,323.87 92.4,322.8 100,322.2 C107.6,321.6 111.67,321 120,320.6 C128.33,320.2 140.17,320.18 150,319.8 C159.83,319.42 172.33,318.87 179,318.3 C185.67,317.73 186.5,317.25 190,316.4 C193.5,315.55 195.83,314.4 200,313.2 C204.17,312 211.17,310.48 215,309.2 C218.83,307.92 220.47,307.03 223,305.5 C225.53,303.97 229,300.92 230.2,300" fill="none" stroke="#DF536B" stroke-width="0.8" stroke-opacity="0.55"/>
<path d="M74.4,332.3 C78.67,332.12 90.38,331.92 100,331.2 C109.62,330.48 123.77,328.9 132.1,328 C140.43,327.1 144.65,326.65 150,325.8 C155.35,324.95 159.37,324.1 164.2,322.9 C169.03,321.7 174.7,320.25 179,318.6 C183.3,316.95 187.32,314.48 190,313 C192.68,311.52 193.07,311.27 195.1,309.7 C197.13,308.13 200.35,305.22 202.2,303.6 C204.05,301.98 205.53,300.6 206.2,300" fill="none" stroke="#CD0BBC" stroke-width="0.8" stroke-opacity="0.62"/>
<path d="M74.6,223.9 C76.65,224 82.67,224.18 86.9,224.5 C91.13,224.82 96.15,225.33 100,225.8 C103.85,226.27 106.67,226.8 110,227.3 C113.33,227.8 116.67,227.92 120,228.8 C123.33,229.68 126.67,231.33 130,232.6 C133.33,233.87 136.67,235.23 140,236.4 C143.33,237.57 146.67,238.33 150,239.6 C153.33,240.87 156.67,242.22 160,244 C163.33,245.78 166.83,247.57 170,250.3 C173.17,253.03 176.5,257.25 179,260.4 C181.5,263.55 183.2,266.35 185,269.2 C186.8,272.05 187.95,274.03 189.8,277.5 C191.65,280.97 194.28,286.25 196.1,290 C197.92,293.75 199.93,298.33 200.7,300" fill="none" stroke="#222" stroke-width="0.8" stroke-opacity="0.8"/>
<path d="M74.9,361.8 C77,361.65 82.48,361.63 87.5,360.9 C92.52,360.17 99.75,358.65 105,357.4 C110.25,356.15 114.62,354.42 119,353.4 C123.38,352.38 127.2,351.88 131.3,351.3 C135.4,350.72 139.22,350.72 143.6,349.9 C147.98,349.08 153.23,347.87 157.6,346.4 C161.97,344.93 165.73,343 169.8,341.1 C173.87,339.2 178.8,336.85 182,335 C185.2,333.15 187,331.75 189,330 C191,328.25 192.48,326.42 194,324.5 C195.52,322.58 196.9,320.92 198.1,318.5 C199.3,316.08 200.35,312.58 201.2,310 C202.05,307.42 202.45,304.67 203.2,303 C203.95,301.33 205.28,300.5 205.7,300" fill="none" stroke="#222" stroke-width="0.8" stroke-opacity="0.8"/>
<line x1="179.1" y1="221" x2="179.1" y2="365" stroke="#555" stroke-width="0.6" stroke-dasharray="1,1.6"/>
<rect x="68.5" y="218.3" width="169.8" height="148.9" fill="none" stroke="#7a7a7a" stroke-width="1"/>
<line x1="84.5" y1="367.2" x2="84.5" y2="371" stroke="#7a7a7a" stroke-width="0.9"/>
<line x1="84.5" y1="218.3" x2="84.5" y2="214.5" stroke="#7a7a7a" stroke-width="0.9"/>
<text x="83.9" y="381.2" style="font-family:'Liberation Sans',sans-serif;font-size:6.1px;font-weight:normal" text-anchor="middle" fill="#2a2a2a" stroke="#2a2a2a" stroke-width="0.3">−8</text>
<line x1="110.53" y1="367.2" x2="110.53" y2="371" stroke="#7a7a7a" stroke-width="0.9"/>
<line x1="110.53" y1="218.3" x2="110.53" y2="214.5" stroke="#7a7a7a" stroke-width="0.9"/>
<text x="109.93" y="381.2" style="font-family:'Liberation Sans',sans-serif;font-size:6.1px;font-weight:normal" text-anchor="middle" fill="#2a2a2a" stroke="#2a2a2a" stroke-width="0.3">−7</text>
<line x1="136.56" y1="367.2" x2="136.56" y2="371" stroke="#7a7a7a" stroke-width="0.9"/>
<line x1="136.56" y1="218.3" x2="136.56" y2="214.5" stroke="#7a7a7a" stroke-width="0.9"/>
<text x="135.96" y="381.2" style="font-family:'Liberation Sans',sans-serif;font-size:6.1px;font-weight:normal" text-anchor="middle" fill="#2a2a2a" stroke="#2a2a2a" stroke-width="0.3">−6</text>
<line x1="162.59" y1="367.2" x2="162.59" y2="371" stroke="#7a7a7a" stroke-width="0.9"/>
<line x1="162.59" y1="218.3" x2="162.59" y2="214.5" stroke="#7a7a7a" stroke-width="0.9"/>
<text x="161.99" y="381.2" style="font-family:'Liberation Sans',sans-serif;font-size:6.1px;font-weight:normal" text-anchor="middle" fill="#2a2a2a" stroke="#2a2a2a" stroke-width="0.3">−5</text>
<line x1="188.62" y1="367.2" x2="188.62" y2="371" stroke="#7a7a7a" stroke-width="0.9"/>
<line x1="188.62" y1="218.3" x2="188.62" y2="214.5" stroke="#7a7a7a" stroke-width="0.9"/>
<text x="188.02" y="381.2" style="font-family:'Liberation Sans',sans-serif;font-size:6.1px;font-weight:normal" text-anchor="middle" fill="#2a2a2a" stroke="#2a2a2a" stroke-width="0.3">−4</text>
<line x1="214.65" y1="367.2" x2="214.65" y2="371" stroke="#7a7a7a" stroke-width="0.9"/>
<line x1="214.65" y1="218.3" x2="214.65" y2="214.5" stroke="#7a7a7a" stroke-width="0.9"/>
<text x="214.05" y="381.2" style="font-family:'Liberation Sans',sans-serif;font-size:6.1px;font-weight:normal" text-anchor="middle" fill="#2a2a2a" stroke="#2a2a2a" stroke-width="0.3">−3</text>
<text x="84.5" y="210" style="font-family:'Liberation Sans',sans-serif;font-size:6.0px;font-weight:normal" text-anchor="middle" fill="#2a2a2a" stroke="#2a2a2a" stroke-width="0.3">11</text>
<text x="110.53" y="210" style="font-family:'Liberation Sans',sans-serif;font-size:6.0px;font-weight:normal" text-anchor="middle" fill="#2a2a2a" stroke="#2a2a2a" stroke-width="0.3">11</text>
<text x="136.56" y="210" style="font-family:'Liberation Sans',sans-serif;font-size:6.0px;font-weight:normal" text-anchor="middle" fill="#2a2a2a" stroke="#2a2a2a" stroke-width="0.3">8</text>
<text x="162.59" y="210" style="font-family:'Liberation Sans',sans-serif;font-size:6.0px;font-weight:normal" text-anchor="middle" fill="#2a2a2a" stroke="#2a2a2a" stroke-width="0.3">7</text>
<text x="188.62" y="210" style="font-family:'Liberation Sans',sans-serif;font-size:6.0px;font-weight:normal" text-anchor="middle" fill="#2a2a2a" stroke="#2a2a2a" stroke-width="0.3">7</text>
<text x="214.65" y="210" style="font-family:'Liberation Sans',sans-serif;font-size:6.0px;font-weight:normal" text-anchor="middle" fill="#2a2a2a" stroke="#2a2a2a" stroke-width="0.3">5</text>
<line x1="64.7" y1="239.1" x2="68.5" y2="239.1" stroke="#7a7a7a" stroke-width="0.9"/>
<text x="60.2" y="239.1" style="font-family:'Liberation Sans',sans-serif;font-size:6.0px;font-weight:normal" text-anchor="middle" fill="#2a2a2a" transform="rotate(-90 60.2 239.1)" stroke="#2a2a2a" stroke-width="0.3">4e−07</text>
<line x1="64.7" y1="269.47" x2="68.5" y2="269.47" stroke="#7a7a7a" stroke-width="0.9"/>
<text x="60.2" y="269.47" style="font-family:'Liberation Sans',sans-serif;font-size:6.0px;font-weight:normal" text-anchor="middle" fill="#2a2a2a" transform="rotate(-90 60.2 269.47)" stroke="#2a2a2a" stroke-width="0.3">2e−07</text>
<line x1="64.7" y1="299.84" x2="68.5" y2="299.84" stroke="#7a7a7a" stroke-width="0.9"/>
<text x="60.2" y="299.84" style="font-family:'Liberation Sans',sans-serif;font-size:6.0px;font-weight:normal" text-anchor="middle" fill="#2a2a2a" transform="rotate(-90 60.2 299.84)" stroke="#2a2a2a" stroke-width="0.3">0e+00</text>
<line x1="64.7" y1="330.21" x2="68.5" y2="330.21" stroke="#7a7a7a" stroke-width="0.9"/>
<text x="60.2" y="330.21" style="font-family:'Liberation Sans',sans-serif;font-size:6.0px;font-weight:normal" text-anchor="middle" fill="#2a2a2a" transform="rotate(-90 60.2 330.21)" stroke="#2a2a2a" stroke-width="0.3">−2e−07</text>
<line x1="64.7" y1="360.58" x2="68.5" y2="360.58" stroke="#7a7a7a" stroke-width="0.9"/>
<text x="60.2" y="360.58" style="font-family:'Liberation Sans',sans-serif;font-size:6.0px;font-weight:normal" text-anchor="middle" fill="#2a2a2a" transform="rotate(-90 60.2 360.58)" stroke="#2a2a2a" stroke-width="0.3">−4e−07</text>
<text x="46" y="293" style="font-family:'Liberation Sans',sans-serif;font-size:5.9px;font-weight:normal" text-anchor="middle" fill="#2a2a2a" transform="rotate(-90 46 293)" stroke="#2a2a2a" stroke-width="0.3">Coefficients</text>
<text x="153.5" y="395" style="font-family:'Liberation Sans',sans-serif;font-size:5.9px;font-weight:normal" text-anchor="middle" fill="#333" textLength="32.6" lengthAdjust="spacingAndGlyphs" stroke="#333" stroke-width="0.3">Log Lambda</text>
<g class="tb">
<text x="274.3" y="23.8" style="font-family:'Liberation Serif',serif;font-size:10px;font-weight:normal" text-anchor="middle" fill="#111">B</text>
<text x="303.3" y="23.7" style="font-family:'Liberation Serif',serif;font-size:9px;font-weight:bold" fill="#111" textLength="149.8" lengthAdjust="spacingAndGlyphs">ADP-D-glycero-beta-D-manno-heptose</text>
<text x="318.1" y="62.05" style="font-family:'Liberation Serif',serif;font-size:8.4px;font-weight:bold" fill="#111" text-anchor="middle" transform="rotate(-90 318.1 62.05)" textLength="70.5" lengthAdjust="spacingAndGlyphs">Relative abundance</text>
<path d="M360.6,114.7 V96.2 H375.4 V114.7" fill="none" stroke="#3a8fcf" stroke-width="1.55"/>
<circle cx="367.87" cy="63.19" r="1.12" fill="#2d80c1"/>
<circle cx="368" cy="64.75" r="1.12" fill="#2d80c1"/>
<circle cx="367.43" cy="68.37" r="1.12" fill="#2d80c1"/>
<circle cx="368.98" cy="68.71" r="1.12" fill="#2d80c1"/>
<circle cx="367.53" cy="70.39" r="1.12" fill="#2d80c1"/>
<circle cx="368.51" cy="69.98" r="1.12" fill="#2d80c1"/>
<circle cx="367.69" cy="72.32" r="1.12" fill="#2d80c1"/>
<circle cx="369.12" cy="72.04" r="1.12" fill="#2d80c1"/>
<circle cx="367.76" cy="73.56" r="1.12" fill="#2d80c1"/>
<circle cx="368.6" cy="73.45" r="1.12" fill="#2d80c1"/>
<circle cx="367.66" cy="75.65" r="1.12" fill="#2d80c1"/>
<circle cx="369.17" cy="75.89" r="1.12" fill="#2d80c1"/>
<circle cx="367.34" cy="77.5" r="1.12" fill="#2d80c1"/>
<circle cx="368.76" cy="77.44" r="1.12" fill="#2d80c1"/>
<circle cx="367.37" cy="79.35" r="1.12" fill="#2d80c1"/>
<circle cx="369.11" cy="79.05" r="1.12" fill="#2d80c1"/>
<circle cx="367.22" cy="80.89" r="1.12" fill="#2d80c1"/>
<circle cx="369.1" cy="80.99" r="1.12" fill="#2d80c1"/>
<circle cx="367.33" cy="83.07" r="1.12" fill="#2d80c1"/>
<circle cx="369.12" cy="83.04" r="1.12" fill="#2d80c1"/>
<circle cx="365.16" cy="84.79" r="1.12" fill="#2d80c1"/>
<circle cx="366.6" cy="84.66" r="1.12" fill="#2d80c1"/>
<circle cx="368.32" cy="84.85" r="1.12" fill="#2d80c1"/>
<circle cx="369.97" cy="84.74" r="1.12" fill="#2d80c1"/>
<circle cx="371.07" cy="84.67" r="1.12" fill="#2d80c1"/>
<circle cx="364.94" cy="86.48" r="1.12" fill="#2d80c1"/>
<circle cx="366.81" cy="86.45" r="1.12" fill="#2d80c1"/>
<circle cx="367.86" cy="86.13" r="1.12" fill="#2d80c1"/>
<circle cx="369.78" cy="86.55" r="1.12" fill="#2d80c1"/>
<circle cx="371.25" cy="86.71" r="1.12" fill="#2d80c1"/>
<circle cx="364.63" cy="88.28" r="1.12" fill="#2d80c1"/>
<circle cx="366.33" cy="88.23" r="1.12" fill="#2d80c1"/>
<circle cx="367.96" cy="88.41" r="1.12" fill="#2d80c1"/>
<circle cx="369.74" cy="87.99" r="1.12" fill="#2d80c1"/>
<circle cx="371.63" cy="87.95" r="1.12" fill="#2d80c1"/>
<circle cx="362.55" cy="89.7" r="1.12" fill="#2d80c1"/>
<circle cx="364.54" cy="90.03" r="1.12" fill="#2d80c1"/>
<circle cx="366.29" cy="89.97" r="1.12" fill="#2d80c1"/>
<circle cx="368.26" cy="89.83" r="1.12" fill="#2d80c1"/>
<circle cx="369.79" cy="89.94" r="1.12" fill="#2d80c1"/>
<circle cx="371.86" cy="90.34" r="1.12" fill="#2d80c1"/>
<circle cx="373.42" cy="90.15" r="1.12" fill="#2d80c1"/>
<circle cx="361.91" cy="91.72" r="1.12" fill="#2d80c1"/>
<circle cx="363.06" cy="91.66" r="1.12" fill="#2d80c1"/>
<circle cx="365.22" cy="91.84" r="1.12" fill="#2d80c1"/>
<circle cx="366.2" cy="91.51" r="1.12" fill="#2d80c1"/>
<circle cx="368.3" cy="91.89" r="1.12" fill="#2d80c1"/>
<circle cx="370.08" cy="91.7" r="1.12" fill="#2d80c1"/>
<circle cx="371.48" cy="91.96" r="1.12" fill="#2d80c1"/>
<circle cx="373.51" cy="91.47" r="1.12" fill="#2d80c1"/>
<circle cx="374.74" cy="92.01" r="1.12" fill="#2d80c1"/>
<circle cx="361.69" cy="93.25" r="1.12" fill="#2d80c1"/>
<circle cx="363.25" cy="93.61" r="1.12" fill="#2d80c1"/>
<circle cx="364.72" cy="93.56" r="1.12" fill="#2d80c1"/>
<circle cx="366.27" cy="93.84" r="1.12" fill="#2d80c1"/>
<circle cx="368.04" cy="93.69" r="1.12" fill="#2d80c1"/>
<circle cx="369.64" cy="93.66" r="1.12" fill="#2d80c1"/>
<circle cx="371.32" cy="93.46" r="1.12" fill="#2d80c1"/>
<circle cx="373.34" cy="93.41" r="1.12" fill="#2d80c1"/>
<circle cx="374.96" cy="93.75" r="1.12" fill="#2d80c1"/>
<circle cx="360.98" cy="95.08" r="1.12" fill="#2d80c1"/>
<circle cx="362.67" cy="95.16" r="1.12" fill="#2d80c1"/>
<circle cx="364.45" cy="95.49" r="1.12" fill="#2d80c1"/>
<circle cx="366.51" cy="95.73" r="1.12" fill="#2d80c1"/>
<circle cx="368.38" cy="95.46" r="1.12" fill="#2d80c1"/>
<circle cx="370.25" cy="95.57" r="1.12" fill="#2d80c1"/>
<circle cx="371.94" cy="95.12" r="1.12" fill="#2d80c1"/>
<circle cx="373.64" cy="95.13" r="1.12" fill="#2d80c1"/>
<circle cx="375.33" cy="95.69" r="1.12" fill="#2d80c1"/>
<circle cx="361.29" cy="97.4" r="1.12" fill="#2d80c1"/>
<circle cx="362.57" cy="96.86" r="1.12" fill="#2d80c1"/>
<circle cx="364.7" cy="96.94" r="1.12" fill="#2d80c1"/>
<circle cx="366.12" cy="97.18" r="1.12" fill="#2d80c1"/>
<circle cx="367.99" cy="96.88" r="1.12" fill="#2d80c1"/>
<circle cx="370.22" cy="97.26" r="1.12" fill="#2d80c1"/>
<circle cx="371.76" cy="97.52" r="1.12" fill="#2d80c1"/>
<circle cx="373.64" cy="96.88" r="1.12" fill="#2d80c1"/>
<circle cx="375.09" cy="97.54" r="1.12" fill="#2d80c1"/>
<circle cx="360.79" cy="99.27" r="1.12" fill="#2d80c1"/>
<circle cx="362.65" cy="98.86" r="1.12" fill="#2d80c1"/>
<circle cx="364.73" cy="99.3" r="1.12" fill="#2d80c1"/>
<circle cx="366.11" cy="98.89" r="1.12" fill="#2d80c1"/>
<circle cx="368.28" cy="99.3" r="1.12" fill="#2d80c1"/>
<circle cx="369.71" cy="98.87" r="1.12" fill="#2d80c1"/>
<circle cx="371.65" cy="99.12" r="1.12" fill="#2d80c1"/>
<circle cx="373.79" cy="98.66" r="1.12" fill="#2d80c1"/>
<circle cx="375.18" cy="99.17" r="1.12" fill="#2d80c1"/>
<circle cx="360.62" cy="100.83" r="1.12" fill="#2d80c1"/>
<circle cx="362.41" cy="100.8" r="1.12" fill="#2d80c1"/>
<circle cx="364.49" cy="100.59" r="1.12" fill="#2d80c1"/>
<circle cx="366.22" cy="100.6" r="1.12" fill="#2d80c1"/>
<circle cx="368.48" cy="101.11" r="1.12" fill="#2d80c1"/>
<circle cx="369.68" cy="100.64" r="1.12" fill="#2d80c1"/>
<circle cx="371.6" cy="100.91" r="1.12" fill="#2d80c1"/>
<circle cx="373.54" cy="100.57" r="1.12" fill="#2d80c1"/>
<circle cx="375.37" cy="100.99" r="1.12" fill="#2d80c1"/>
<circle cx="360.96" cy="102.27" r="1.12" fill="#2d80c1"/>
<circle cx="362.5" cy="102.6" r="1.12" fill="#2d80c1"/>
<circle cx="364.82" cy="102.5" r="1.12" fill="#2d80c1"/>
<circle cx="366.24" cy="102.66" r="1.12" fill="#2d80c1"/>
<circle cx="368.35" cy="102.45" r="1.12" fill="#2d80c1"/>
<circle cx="369.87" cy="102.89" r="1.12" fill="#2d80c1"/>
<circle cx="371.67" cy="102.79" r="1.12" fill="#2d80c1"/>
<circle cx="373.4" cy="102.6" r="1.12" fill="#2d80c1"/>
<circle cx="375.17" cy="102.3" r="1.12" fill="#2d80c1"/>
<circle cx="361.4" cy="104.63" r="1.12" fill="#2d80c1"/>
<circle cx="362.85" cy="104.71" r="1.12" fill="#2d80c1"/>
<circle cx="364.9" cy="104.47" r="1.12" fill="#2d80c1"/>
<circle cx="366.61" cy="104.67" r="1.12" fill="#2d80c1"/>
<circle cx="368.21" cy="104.65" r="1.12" fill="#2d80c1"/>
<circle cx="369.83" cy="104.74" r="1.12" fill="#2d80c1"/>
<circle cx="371.32" cy="104.72" r="1.12" fill="#2d80c1"/>
<circle cx="373.38" cy="104.58" r="1.12" fill="#2d80c1"/>
<circle cx="374.8" cy="104.61" r="1.12" fill="#2d80c1"/>
<circle cx="362.65" cy="106.19" r="1.12" fill="#2d80c1"/>
<circle cx="364.19" cy="106.24" r="1.12" fill="#2d80c1"/>
<circle cx="365.36" cy="106.33" r="1.12" fill="#2d80c1"/>
<circle cx="367.14" cy="105.91" r="1.12" fill="#2d80c1"/>
<circle cx="369.15" cy="106.29" r="1.12" fill="#2d80c1"/>
<circle cx="370.61" cy="106.35" r="1.12" fill="#2d80c1"/>
<circle cx="372.4" cy="106.13" r="1.12" fill="#2d80c1"/>
<circle cx="373.85" cy="106.24" r="1.12" fill="#2d80c1"/>
<circle cx="363.55" cy="108.17" r="1.12" fill="#2d80c1"/>
<circle cx="364.93" cy="108.33" r="1.12" fill="#2d80c1"/>
<circle cx="366.53" cy="107.97" r="1.12" fill="#2d80c1"/>
<circle cx="368.05" cy="107.79" r="1.12" fill="#2d80c1"/>
<circle cx="369.91" cy="108.02" r="1.12" fill="#2d80c1"/>
<circle cx="371.42" cy="107.79" r="1.12" fill="#2d80c1"/>
<circle cx="372.98" cy="107.67" r="1.12" fill="#2d80c1"/>
<circle cx="364.16" cy="109.9" r="1.12" fill="#2d80c1"/>
<circle cx="366.48" cy="110.12" r="1.12" fill="#2d80c1"/>
<circle cx="368.43" cy="109.98" r="1.12" fill="#2d80c1"/>
<circle cx="370.06" cy="109.57" r="1.12" fill="#2d80c1"/>
<circle cx="371.98" cy="109.72" r="1.12" fill="#2d80c1"/>
<circle cx="365.97" cy="111.72" r="1.12" fill="#2d80c1"/>
<circle cx="367.46" cy="111.79" r="1.12" fill="#2d80c1"/>
<circle cx="369.16" cy="111.26" r="1.12" fill="#2d80c1"/>
<circle cx="370.49" cy="111.26" r="1.12" fill="#2d80c1"/>
<circle cx="367.81" cy="113.24" r="1.12" fill="#2d80c1"/>
<circle cx="368.47" cy="113.48" r="1.12" fill="#2d80c1"/>
<circle cx="368.2" cy="46.3" r="1.12" fill="#2d80c1"/>
<circle cx="366.7" cy="47.3" r="1.12" fill="#2d80c1"/>
<circle cx="369.7" cy="45.3" r="1.12" fill="#2d80c1"/>
<circle cx="368.2" cy="58.2" r="1.12" fill="#2d80c1"/>
<line x1="368.2" y1="94.2" x2="368.2" y2="98.2" stroke="#3a8fcf" stroke-width="1.0"/>
<line x1="365.2" y1="94.2" x2="371.2" y2="94.2" stroke="#3a8fcf" stroke-width="1.0"/>
<path d="M384.4,114.7 V90.9 H399.3 V114.7" fill="none" stroke="#d86a5a" stroke-width="1.55"/>
<rect x="392.5" y="71.05" width="1.7" height="1.7" fill="#d46050"/>
<rect x="394.2" y="71.49" width="1.7" height="1.7" fill="#d46050"/>
<rect x="389.48" y="73.28" width="1.7" height="1.7" fill="#d46050"/>
<rect x="392.86" y="73.4" width="1.7" height="1.7" fill="#d46050"/>
<rect x="390.99" y="75.31" width="1.7" height="1.7" fill="#d46050"/>
<rect x="391.15" y="79.45" width="1.7" height="1.7" fill="#d46050"/>
<rect x="390.47" y="81.67" width="1.7" height="1.7" fill="#d46050"/>
<rect x="391.55" y="81.41" width="1.7" height="1.7" fill="#d46050"/>
<rect x="390.27" y="83.77" width="1.7" height="1.7" fill="#d46050"/>
<rect x="391.36" y="86.13" width="1.7" height="1.7" fill="#d46050"/>
<rect x="392.8" y="88.23" width="1.7" height="1.7" fill="#d46050"/>
<rect x="395.29" y="88.12" width="1.7" height="1.7" fill="#d46050"/>
<rect x="385.16" y="90.35" width="1.7" height="1.7" fill="#d46050"/>
<rect x="387.65" y="90.35" width="1.7" height="1.7" fill="#d46050"/>
<rect x="389.71" y="89.92" width="1.7" height="1.7" fill="#d46050"/>
<rect x="392.36" y="89.86" width="1.7" height="1.7" fill="#d46050"/>
<rect x="394.5" y="90.03" width="1.7" height="1.7" fill="#d46050"/>
<rect x="397.05" y="89.82" width="1.7" height="1.7" fill="#d46050"/>
<rect x="385.13" y="91.96" width="1.7" height="1.7" fill="#d46050"/>
<rect x="390.21" y="92.01" width="1.7" height="1.7" fill="#d46050"/>
<rect x="392.43" y="92.2" width="1.7" height="1.7" fill="#d46050"/>
<rect x="395.01" y="92.24" width="1.7" height="1.7" fill="#d46050"/>
<rect x="397.24" y="92" width="1.7" height="1.7" fill="#d46050"/>
<rect x="385.21" y="94.4" width="1.7" height="1.7" fill="#d46050"/>
<rect x="390.27" y="94.13" width="1.7" height="1.7" fill="#d46050"/>
<rect x="392.72" y="94.2" width="1.7" height="1.7" fill="#d46050"/>
<rect x="395.07" y="93.99" width="1.7" height="1.7" fill="#d46050"/>
<rect x="397.23" y="94.04" width="1.7" height="1.7" fill="#d46050"/>
<rect x="385.2" y="96.39" width="1.7" height="1.7" fill="#d46050"/>
<rect x="387.59" y="96.21" width="1.7" height="1.7" fill="#d46050"/>
<rect x="389.81" y="96.45" width="1.7" height="1.7" fill="#d46050"/>
<rect x="392.42" y="96.38" width="1.7" height="1.7" fill="#d46050"/>
<rect x="394.49" y="96.55" width="1.7" height="1.7" fill="#d46050"/>
<rect x="385.22" y="98.5" width="1.7" height="1.7" fill="#d46050"/>
<rect x="389.6" y="98.48" width="1.7" height="1.7" fill="#d46050"/>
<rect x="392.09" y="98.64" width="1.7" height="1.7" fill="#d46050"/>
<rect x="395.08" y="98.66" width="1.7" height="1.7" fill="#d46050"/>
<rect x="387.77" y="100.22" width="1.7" height="1.7" fill="#d46050"/>
<rect x="391.99" y="100.73" width="1.7" height="1.7" fill="#d46050"/>
<rect x="394.71" y="100.87" width="1.7" height="1.7" fill="#d46050"/>
<rect x="396.95" y="100.73" width="1.7" height="1.7" fill="#d46050"/>
<rect x="387.67" y="102.99" width="1.7" height="1.7" fill="#d46050"/>
<rect x="392.32" y="102.48" width="1.7" height="1.7" fill="#d46050"/>
<rect x="393.99" y="102.58" width="1.7" height="1.7" fill="#d46050"/>
<rect x="396.15" y="102.43" width="1.7" height="1.7" fill="#d46050"/>
<rect x="386.02" y="104.97" width="1.7" height="1.7" fill="#d46050"/>
<rect x="389.04" y="104.8" width="1.7" height="1.7" fill="#d46050"/>
<rect x="390.85" y="104.84" width="1.7" height="1.7" fill="#d46050"/>
<rect x="393.42" y="105.1" width="1.7" height="1.7" fill="#d46050"/>
<rect x="389.09" y="107.02" width="1.7" height="1.7" fill="#d46050"/>
<rect x="393.57" y="107.18" width="1.7" height="1.7" fill="#d46050"/>
<rect x="395.32" y="106.54" width="1.7" height="1.7" fill="#d46050"/>
<rect x="391.15" y="45.05" width="1.7" height="1.7" fill="#d46050"/>
<rect x="391.15" y="46.45" width="1.7" height="1.7" fill="#d46050"/>
<rect x="391.15" y="47.75" width="1.7" height="1.7" fill="#d46050"/>
<rect x="391.15" y="53.75" width="1.7" height="1.7" fill="#d46050"/>
<rect x="391.15" y="63.35" width="1.7" height="1.7" fill="#d46050"/>
<rect x="391.15" y="70.45" width="1.7" height="1.7" fill="#d46050"/>
<line x1="392" y1="88.9" x2="392" y2="92.9" stroke="#d86a5a" stroke-width="1.0"/>
<line x1="389" y1="88.9" x2="395" y2="88.9" stroke="#d86a5a" stroke-width="1.0"/>
<line x1="352.2" y1="39.7" x2="352.2" y2="114.7" stroke="#111" stroke-width="1.2"/>
<line x1="351" y1="114.7" x2="408" y2="114.7" stroke="#111" stroke-width="1.2"/>
<text x="348.2" y="119" style="font-family:'Liberation Serif',serif;font-size:8.7px;font-weight:bold" text-anchor="end" fill="#111">0</text>
<line x1="348" y1="99.7" x2="352.2" y2="99.7" stroke="#111" stroke-width="1.1"/>
<text x="345.7" y="104" style="font-family:'Liberation Serif',serif;font-size:8.7px;font-weight:bold" text-anchor="end" fill="#111">2×10</text>
<text x="345.7" y="100.8" style="font-family:'Liberation Serif',serif;font-size:5.3px;font-weight:bold" fill="#111">5</text>
<line x1="348" y1="84.7" x2="352.2" y2="84.7" stroke="#111" stroke-width="1.1"/>
<text x="345.7" y="89" style="font-family:'Liberation Serif',serif;font-size:8.7px;font-weight:bold" text-anchor="end" fill="#111">4×10</text>
<text x="345.7" y="85.8" style="font-family:'Liberation Serif',serif;font-size:5.3px;font-weight:bold" fill="#111">5</text>
<line x1="348" y1="69.7" x2="352.2" y2="69.7" stroke="#111" stroke-width="1.1"/>
<text x="345.7" y="74" style="font-family:'Liberation Serif',serif;font-size:8.7px;font-weight:bold" text-anchor="end" fill="#111">6×10</text>
<text x="345.7" y="70.8" style="font-family:'Liberation Serif',serif;font-size:5.3px;font-weight:bold" fill="#111">5</text>
<line x1="348" y1="54.7" x2="352.2" y2="54.7" stroke="#111" stroke-width="1.1"/>
<text x="345.7" y="59" style="font-family:'Liberation Serif',serif;font-size:8.7px;font-weight:bold" text-anchor="end" fill="#111">8×10</text>
<text x="345.7" y="55.8" style="font-family:'Liberation Serif',serif;font-size:5.3px;font-weight:bold" fill="#111">5</text>
<line x1="348" y1="39.7" x2="352.2" y2="39.7" stroke="#111" stroke-width="1.1"/>
<text x="345.7" y="44" style="font-family:'Liberation Serif',serif;font-size:8.7px;font-weight:bold" text-anchor="end" fill="#111">1×10</text>
<text x="345.7" y="40.8" style="font-family:'Liberation Serif',serif;font-size:5.3px;font-weight:bold" fill="#111">6</text>
<line x1="368.2" y1="114.7" x2="368.2" y2="118.2" stroke="#111" stroke-width="1.1"/>
<line x1="392" y1="114.7" x2="392" y2="118.2" stroke="#111" stroke-width="1.1"/>
<line x1="362" y1="41.4" x2="393.9" y2="41.4" stroke="#000" stroke-width="1.3"/>
<polygon points="374.27,36.15 374.83,37.53 376.32,37.64 375.18,38.59 375.54,40.04 374.27,39.25 373.01,40.04 373.37,38.59 372.23,37.64 373.72,37.53" fill="#111"/>
<polygon points="378.73,36.15 379.28,37.53 380.77,37.64 379.63,38.59 379.99,40.04 378.73,39.25 377.46,40.04 377.82,38.59 376.68,37.64 378.17,37.53" fill="#111"/>
<text x="337.2" y="127" style="font-family:'Liberation Serif',serif;font-size:7.8px;font-weight:bold" fill="#111" textLength="43.8" lengthAdjust="spacingAndGlyphs">suspected PE</text>
<text x="381" y="123.8" style="font-family:'Liberation Serif',serif;font-size:4.6px;font-weight:bold" fill="#111">−</text>
<text x="382.2" y="127" style="font-family:'Liberation Serif',serif;font-size:7.8px;font-weight:bold" fill="#111" textLength="43" lengthAdjust="spacingAndGlyphs">suspected PE</text>
<text x="425.2" y="123.8" style="font-family:'Liberation Serif',serif;font-size:4.6px;font-weight:bold" fill="#111">+</text>
<text x="461.9" y="23.4" style="font-family:'Liberation Serif',serif;font-size:9px;font-weight:bold" fill="#111" textLength="84.1" lengthAdjust="spacingAndGlyphs">2-hydroxyvaleric acid</text>
<path d="M490.8,110.8 V90.6 H508.4 V110.8" fill="none" stroke="#3a8fcf" stroke-width="1.55"/>
<circle cx="499.29" cy="74.13" r="1.12" fill="#2d80c1"/>
<circle cx="499.17" cy="75.71" r="1.12" fill="#2d80c1"/>
<circle cx="498.7" cy="77.25" r="1.12" fill="#2d80c1"/>
<circle cx="500.11" cy="77.73" r="1.12" fill="#2d80c1"/>
<circle cx="498.37" cy="78.91" r="1.12" fill="#2d80c1"/>
<circle cx="500.52" cy="79.18" r="1.12" fill="#2d80c1"/>
<circle cx="498.03" cy="80.93" r="1.12" fill="#2d80c1"/>
<circle cx="499.55" cy="80.86" r="1.12" fill="#2d80c1"/>
<circle cx="501.49" cy="81.13" r="1.12" fill="#2d80c1"/>
<circle cx="497.42" cy="82.73" r="1.12" fill="#2d80c1"/>
<circle cx="498.73" cy="82.73" r="1.12" fill="#2d80c1"/>
<circle cx="500.07" cy="82.77" r="1.12" fill="#2d80c1"/>
<circle cx="501.94" cy="82.47" r="1.12" fill="#2d80c1"/>
<circle cx="495.96" cy="84.65" r="1.12" fill="#2d80c1"/>
<circle cx="497.63" cy="84.38" r="1.12" fill="#2d80c1"/>
<circle cx="499.36" cy="84.73" r="1.12" fill="#2d80c1"/>
<circle cx="501.15" cy="84.71" r="1.12" fill="#2d80c1"/>
<circle cx="502.89" cy="84.86" r="1.12" fill="#2d80c1"/>
<circle cx="495.41" cy="86.53" r="1.12" fill="#2d80c1"/>
<circle cx="496.59" cy="86.11" r="1.12" fill="#2d80c1"/>
<circle cx="498.6" cy="86.71" r="1.12" fill="#2d80c1"/>
<circle cx="500.73" cy="86.13" r="1.12" fill="#2d80c1"/>
<circle cx="502.46" cy="86.62" r="1.12" fill="#2d80c1"/>
<circle cx="503.79" cy="86.18" r="1.12" fill="#2d80c1"/>
<circle cx="494.17" cy="88.47" r="1.12" fill="#2d80c1"/>
<circle cx="496.14" cy="87.95" r="1.12" fill="#2d80c1"/>
<circle cx="498" cy="88.09" r="1.12" fill="#2d80c1"/>
<circle cx="499.63" cy="88.33" r="1.12" fill="#2d80c1"/>
<circle cx="501.16" cy="88.05" r="1.12" fill="#2d80c1"/>
<circle cx="503.05" cy="88.51" r="1.12" fill="#2d80c1"/>
<circle cx="504.99" cy="87.93" r="1.12" fill="#2d80c1"/>
<circle cx="493.9" cy="89.87" r="1.12" fill="#2d80c1"/>
<circle cx="495.43" cy="90.27" r="1.12" fill="#2d80c1"/>
<circle cx="497.13" cy="90.25" r="1.12" fill="#2d80c1"/>
<circle cx="498.79" cy="90.21" r="1.12" fill="#2d80c1"/>
<circle cx="500.3" cy="90.11" r="1.12" fill="#2d80c1"/>
<circle cx="502.19" cy="89.88" r="1.12" fill="#2d80c1"/>
<circle cx="503.72" cy="90.13" r="1.12" fill="#2d80c1"/>
<circle cx="505.51" cy="89.69" r="1.12" fill="#2d80c1"/>
<circle cx="493.17" cy="91.55" r="1.12" fill="#2d80c1"/>
<circle cx="495.11" cy="91.71" r="1.12" fill="#2d80c1"/>
<circle cx="497.09" cy="91.92" r="1.12" fill="#2d80c1"/>
<circle cx="498.63" cy="91.91" r="1.12" fill="#2d80c1"/>
<circle cx="500.22" cy="91.83" r="1.12" fill="#2d80c1"/>
<circle cx="502.35" cy="91.96" r="1.12" fill="#2d80c1"/>
<circle cx="503.93" cy="91.77" r="1.12" fill="#2d80c1"/>
<circle cx="505.41" cy="91.48" r="1.12" fill="#2d80c1"/>
<circle cx="494.65" cy="93.56" r="1.12" fill="#2d80c1"/>
<circle cx="496.03" cy="93.75" r="1.12" fill="#2d80c1"/>
<circle cx="498.09" cy="93.58" r="1.12" fill="#2d80c1"/>
<circle cx="499.9" cy="93.29" r="1.12" fill="#2d80c1"/>
<circle cx="501.27" cy="93.44" r="1.12" fill="#2d80c1"/>
<circle cx="502.76" cy="93.77" r="1.12" fill="#2d80c1"/>
<circle cx="504.41" cy="93.73" r="1.12" fill="#2d80c1"/>
<circle cx="495.6" cy="95.53" r="1.12" fill="#2d80c1"/>
<circle cx="497.35" cy="95.29" r="1.12" fill="#2d80c1"/>
<circle cx="498.53" cy="95.55" r="1.12" fill="#2d80c1"/>
<circle cx="500.26" cy="95.22" r="1.12" fill="#2d80c1"/>
<circle cx="502.27" cy="95.12" r="1.12" fill="#2d80c1"/>
<circle cx="503.48" cy="95.16" r="1.12" fill="#2d80c1"/>
<circle cx="496.65" cy="97.32" r="1.12" fill="#2d80c1"/>
<circle cx="498.56" cy="96.88" r="1.12" fill="#2d80c1"/>
<circle cx="500.61" cy="97.35" r="1.12" fill="#2d80c1"/>
<circle cx="502.62" cy="97.01" r="1.12" fill="#2d80c1"/>
<circle cx="497.99" cy="98.88" r="1.12" fill="#2d80c1"/>
<circle cx="499.88" cy="99.05" r="1.12" fill="#2d80c1"/>
<circle cx="501.26" cy="98.73" r="1.12" fill="#2d80c1"/>
<circle cx="498.85" cy="100.95" r="1.12" fill="#2d80c1"/>
<circle cx="500.5" cy="101.15" r="1.12" fill="#2d80c1"/>
<circle cx="499.6" cy="65.5" r="1.12" fill="#2d80c1"/>
<circle cx="499.6" cy="68.5" r="1.12" fill="#2d80c1"/>
<circle cx="499.6" cy="71.5" r="1.12" fill="#2d80c1"/>
<line x1="499.6" y1="88.6" x2="499.6" y2="92.6" stroke="#3a8fcf" stroke-width="1.0"/>
<line x1="496.6" y1="88.6" x2="502.6" y2="88.6" stroke="#3a8fcf" stroke-width="1.0"/>
<path d="M518.6,110.8 V85.9 H536.9 V110.8" fill="none" stroke="#d86a5a" stroke-width="1.55"/>
<rect x="524.79" y="72.84" width="1.7" height="1.7" fill="#d46050"/>
<rect x="527.17" y="73.49" width="1.7" height="1.7" fill="#d46050"/>
<rect x="529.06" y="73.31" width="1.7" height="1.7" fill="#d46050"/>
<rect x="524.99" y="75.01" width="1.7" height="1.7" fill="#d46050"/>
<rect x="529.13" y="77.21" width="1.7" height="1.7" fill="#d46050"/>
<rect x="526.94" y="79.21" width="1.7" height="1.7" fill="#d46050"/>
<rect x="529.52" y="79.75" width="1.7" height="1.7" fill="#d46050"/>
<rect x="523.49" y="83.46" width="1.7" height="1.7" fill="#d46050"/>
<rect x="525.54" y="83.92" width="1.7" height="1.7" fill="#d46050"/>
<rect x="528.5" y="83.76" width="1.7" height="1.7" fill="#d46050"/>
<rect x="531.13" y="83.56" width="1.7" height="1.7" fill="#d46050"/>
<rect x="521.72" y="85.83" width="1.7" height="1.7" fill="#d46050"/>
<rect x="525.69" y="85.87" width="1.7" height="1.7" fill="#d46050"/>
<rect x="528.41" y="85.66" width="1.7" height="1.7" fill="#d46050"/>
<rect x="530.28" y="86.06" width="1.7" height="1.7" fill="#d46050"/>
<rect x="532.58" y="85.4" width="1.7" height="1.7" fill="#d46050"/>
<rect x="520.91" y="88.08" width="1.7" height="1.7" fill="#d46050"/>
<rect x="525.09" y="88.06" width="1.7" height="1.7" fill="#d46050"/>
<rect x="526.99" y="88.18" width="1.7" height="1.7" fill="#d46050"/>
<rect x="529.47" y="87.7" width="1.7" height="1.7" fill="#d46050"/>
<rect x="531.72" y="87.86" width="1.7" height="1.7" fill="#d46050"/>
<rect x="534.02" y="87.79" width="1.7" height="1.7" fill="#d46050"/>
<rect x="520.03" y="89.97" width="1.7" height="1.7" fill="#d46050"/>
<rect x="522.27" y="90.09" width="1.7" height="1.7" fill="#d46050"/>
<rect x="524.97" y="90.04" width="1.7" height="1.7" fill="#d46050"/>
<rect x="527.46" y="89.77" width="1.7" height="1.7" fill="#d46050"/>
<rect x="529.38" y="89.64" width="1.7" height="1.7" fill="#d46050"/>
<rect x="531.87" y="89.67" width="1.7" height="1.7" fill="#d46050"/>
<rect x="534.22" y="89.92" width="1.7" height="1.7" fill="#d46050"/>
<rect x="521.37" y="91.82" width="1.7" height="1.7" fill="#d46050"/>
<rect x="523.74" y="92.31" width="1.7" height="1.7" fill="#d46050"/>
<rect x="526.1" y="92.06" width="1.7" height="1.7" fill="#d46050"/>
<rect x="530.94" y="92.34" width="1.7" height="1.7" fill="#d46050"/>
<rect x="533.33" y="92.11" width="1.7" height="1.7" fill="#d46050"/>
<rect x="522" y="94.3" width="1.7" height="1.7" fill="#d46050"/>
<rect x="524.71" y="94" width="1.7" height="1.7" fill="#d46050"/>
<rect x="527.42" y="94.49" width="1.7" height="1.7" fill="#d46050"/>
<rect x="529.8" y="93.86" width="1.7" height="1.7" fill="#d46050"/>
<rect x="532.17" y="94.38" width="1.7" height="1.7" fill="#d46050"/>
<rect x="523.24" y="96.25" width="1.7" height="1.7" fill="#d46050"/>
<rect x="525.68" y="96.01" width="1.7" height="1.7" fill="#d46050"/>
<rect x="528.58" y="96.02" width="1.7" height="1.7" fill="#d46050"/>
<rect x="526.15" y="64.35" width="1.7" height="1.7" fill="#d46050"/>
<rect x="528.15" y="64.35" width="1.7" height="1.7" fill="#d46050"/>
<rect x="527.15" y="68.35" width="1.7" height="1.7" fill="#d46050"/>
<rect x="527.15" y="72.25" width="1.7" height="1.7" fill="#d46050"/>
<rect x="527.55" y="40.05" width="1.7" height="1.7" fill="#d46050"/>
<line x1="528" y1="83.9" x2="528" y2="87.9" stroke="#d86a5a" stroke-width="1.0"/>
<line x1="525" y1="83.9" x2="531" y2="83.9" stroke="#d86a5a" stroke-width="1.0"/>
<line x1="480.8" y1="35.4" x2="480.8" y2="110.8" stroke="#111" stroke-width="1.2"/>
<line x1="476.9" y1="110.8" x2="547" y2="110.8" stroke="#111" stroke-width="1.2"/>
<text x="475.2" y="115.1" style="font-family:'Liberation Serif',serif;font-size:8.5px;font-weight:bold" text-anchor="end" fill="#111">0</text>
<line x1="476.6" y1="95.72" x2="480.8" y2="95.72" stroke="#111" stroke-width="1.1"/>
<text x="474.5" y="100.02" style="font-family:'Liberation Serif',serif;font-size:8.5px;font-weight:bold" text-anchor="end" fill="#111">5×10</text>
<text x="474.5" y="96.82" style="font-family:'Liberation Serif',serif;font-size:5.3px;font-weight:bold" fill="#111">8</text>
<line x1="476.6" y1="80.64" x2="480.8" y2="80.64" stroke="#111" stroke-width="1.1"/>
<text x="474.5" y="84.94" style="font-family:'Liberation Serif',serif;font-size:8.5px;font-weight:bold" text-anchor="end" fill="#111">1×10</text>
<text x="474.5" y="81.74" style="font-family:'Liberation Serif',serif;font-size:5.3px;font-weight:bold" fill="#111">9</text>
<line x1="476.6" y1="65.56" x2="480.8" y2="65.56" stroke="#111" stroke-width="1.1"/>
<text x="474.5" y="69.86" style="font-family:'Liberation Serif',serif;font-size:8.5px;font-weight:bold" text-anchor="end" fill="#111">1.5×10</text>
<text x="474.5" y="66.66" style="font-family:'Liberation Serif',serif;font-size:5.3px;font-weight:bold" fill="#111">9</text>
<line x1="476.6" y1="50.48" x2="480.8" y2="50.48" stroke="#111" stroke-width="1.1"/>
<text x="474.5" y="54.78" style="font-family:'Liberation Serif',serif;font-size:8.5px;font-weight:bold" text-anchor="end" fill="#111">2×10</text>
<text x="474.5" y="51.58" style="font-family:'Liberation Serif',serif;font-size:5.3px;font-weight:bold" fill="#111">9</text>
<line x1="476.6" y1="35.4" x2="480.8" y2="35.4" stroke="#111" stroke-width="1.1"/>
<text x="474.5" y="39.7" style="font-family:'Liberation Serif',serif;font-size:8.5px;font-weight:bold" text-anchor="end" fill="#111">2.5×10</text>
<text x="474.5" y="36.5" style="font-family:'Liberation Serif',serif;font-size:5.3px;font-weight:bold" fill="#111">9</text>
<line x1="499.6" y1="110.8" x2="499.6" y2="114.3" stroke="#111" stroke-width="1.1"/>
<line x1="528" y1="110.8" x2="528" y2="114.3" stroke="#111" stroke-width="1.1"/>
<line x1="496.4" y1="38.5" x2="527.6" y2="38.5" stroke="#000" stroke-width="1.3"/>
<polygon points="509.15,33.85 509.71,35.23 511.19,35.34 510.05,36.29 510.41,37.74 509.15,36.95 507.89,37.74 508.25,36.29 507.11,35.34 508.59,35.23" fill="#111"/>
<polygon points="513.6,33.85 514.16,35.23 515.64,35.34 514.5,36.29 514.86,37.74 513.6,36.95 512.34,37.74 512.7,36.29 511.56,35.34 513.04,35.23" fill="#111"/>
<polygon points="518.05,33.85 518.61,35.23 520.09,35.34 518.95,36.29 519.31,37.74 518.05,36.95 516.79,37.74 517.15,36.29 516.01,35.34 517.49,35.23" fill="#111"/>
<text x="471.2" y="124.1" style="font-family:'Liberation Serif',serif;font-size:7.8px;font-weight:bold" fill="#111" textLength="43.5" lengthAdjust="spacingAndGlyphs">suspected PE</text>
<text x="514.7" y="120.9" style="font-family:'Liberation Serif',serif;font-size:4.6px;font-weight:bold" fill="#111">−</text>
<text x="516.7" y="124.1" style="font-family:'Liberation Serif',serif;font-size:7.8px;font-weight:bold" fill="#111" textLength="42.3" lengthAdjust="spacingAndGlyphs">suspected PE</text>
<text x="559" y="120.9" style="font-family:'Liberation Serif',serif;font-size:4.6px;font-weight:bold" fill="#111">+</text>
<text x="568.7" y="23.7" style="font-family:'Liberation Serif',serif;font-size:9px;font-weight:bold" fill="#111" textLength="95.4" lengthAdjust="spacingAndGlyphs">gamma-glutamyl-leucine</text>
<path d="M600.6,110.6 V88.2 H618.6 V110.6" fill="none" stroke="#3a8fcf" stroke-width="1.55"/>
<circle cx="609.58" cy="70.07" r="1.12" fill="#2d80c1"/>
<circle cx="609.38" cy="72.02" r="1.12" fill="#2d80c1"/>
<circle cx="609.16" cy="73.58" r="1.12" fill="#2d80c1"/>
<circle cx="610.17" cy="73.91" r="1.12" fill="#2d80c1"/>
<circle cx="609.09" cy="75.61" r="1.12" fill="#2d80c1"/>
<circle cx="610.01" cy="75.92" r="1.12" fill="#2d80c1"/>
<circle cx="608.81" cy="77.46" r="1.12" fill="#2d80c1"/>
<circle cx="610.27" cy="77.52" r="1.12" fill="#2d80c1"/>
<circle cx="608.63" cy="79.39" r="1.12" fill="#2d80c1"/>
<circle cx="610.48" cy="79.01" r="1.12" fill="#2d80c1"/>
<circle cx="607.91" cy="81.11" r="1.12" fill="#2d80c1"/>
<circle cx="609.55" cy="81.03" r="1.12" fill="#2d80c1"/>
<circle cx="611.18" cy="80.9" r="1.12" fill="#2d80c1"/>
<circle cx="606.95" cy="82.85" r="1.12" fill="#2d80c1"/>
<circle cx="608.64" cy="83.02" r="1.12" fill="#2d80c1"/>
<circle cx="610.74" cy="83" r="1.12" fill="#2d80c1"/>
<circle cx="612.65" cy="82.86" r="1.12" fill="#2d80c1"/>
<circle cx="605.8" cy="84.83" r="1.12" fill="#2d80c1"/>
<circle cx="607.33" cy="84.77" r="1.12" fill="#2d80c1"/>
<circle cx="608.87" cy="84.72" r="1.12" fill="#2d80c1"/>
<circle cx="610.43" cy="84.63" r="1.12" fill="#2d80c1"/>
<circle cx="612.35" cy="84.47" r="1.12" fill="#2d80c1"/>
<circle cx="613.91" cy="84.97" r="1.12" fill="#2d80c1"/>
<circle cx="603.79" cy="86.63" r="1.12" fill="#2d80c1"/>
<circle cx="605.64" cy="86.46" r="1.12" fill="#2d80c1"/>
<circle cx="607.53" cy="86.44" r="1.12" fill="#2d80c1"/>
<circle cx="609.59" cy="86.31" r="1.12" fill="#2d80c1"/>
<circle cx="611.4" cy="86.26" r="1.12" fill="#2d80c1"/>
<circle cx="613.11" cy="86.44" r="1.12" fill="#2d80c1"/>
<circle cx="615.4" cy="86.44" r="1.12" fill="#2d80c1"/>
<circle cx="602.87" cy="88.16" r="1.12" fill="#2d80c1"/>
<circle cx="604.74" cy="88.28" r="1.12" fill="#2d80c1"/>
<circle cx="607.04" cy="88.27" r="1.12" fill="#2d80c1"/>
<circle cx="608.77" cy="88.11" r="1.12" fill="#2d80c1"/>
<circle cx="610.3" cy="88.5" r="1.12" fill="#2d80c1"/>
<circle cx="612.63" cy="88.63" r="1.12" fill="#2d80c1"/>
<circle cx="614.23" cy="87.96" r="1.12" fill="#2d80c1"/>
<circle cx="615.91" cy="88.4" r="1.12" fill="#2d80c1"/>
<circle cx="603.62" cy="90.24" r="1.12" fill="#2d80c1"/>
<circle cx="605.21" cy="90.08" r="1.12" fill="#2d80c1"/>
<circle cx="606.75" cy="90.29" r="1.12" fill="#2d80c1"/>
<circle cx="608.96" cy="89.79" r="1.12" fill="#2d80c1"/>
<circle cx="610.81" cy="89.85" r="1.12" fill="#2d80c1"/>
<circle cx="612.36" cy="90.09" r="1.12" fill="#2d80c1"/>
<circle cx="614.4" cy="89.99" r="1.12" fill="#2d80c1"/>
<circle cx="616.17" cy="90.07" r="1.12" fill="#2d80c1"/>
<circle cx="603.55" cy="91.56" r="1.12" fill="#2d80c1"/>
<circle cx="605.31" cy="91.94" r="1.12" fill="#2d80c1"/>
<circle cx="607.11" cy="92.22" r="1.12" fill="#2d80c1"/>
<circle cx="608.95" cy="92.08" r="1.12" fill="#2d80c1"/>
<circle cx="610.1" cy="91.9" r="1.12" fill="#2d80c1"/>
<circle cx="612.15" cy="91.88" r="1.12" fill="#2d80c1"/>
<circle cx="614.02" cy="92.16" r="1.12" fill="#2d80c1"/>
<circle cx="615.71" cy="91.94" r="1.12" fill="#2d80c1"/>
<circle cx="605.33" cy="93.42" r="1.12" fill="#2d80c1"/>
<circle cx="607.06" cy="93.49" r="1.12" fill="#2d80c1"/>
<circle cx="608.42" cy="93.47" r="1.12" fill="#2d80c1"/>
<circle cx="610.29" cy="93.97" r="1.12" fill="#2d80c1"/>
<circle cx="612.13" cy="93.68" r="1.12" fill="#2d80c1"/>
<circle cx="614.33" cy="93.52" r="1.12" fill="#2d80c1"/>
<circle cx="606.37" cy="95.23" r="1.12" fill="#2d80c1"/>
<circle cx="608.48" cy="95.49" r="1.12" fill="#2d80c1"/>
<circle cx="610.32" cy="95.19" r="1.12" fill="#2d80c1"/>
<circle cx="612.96" cy="95.16" r="1.12" fill="#2d80c1"/>
<circle cx="608.38" cy="97.53" r="1.12" fill="#2d80c1"/>
<circle cx="609.62" cy="97.63" r="1.12" fill="#2d80c1"/>
<circle cx="611.15" cy="97.54" r="1.12" fill="#2d80c1"/>
<circle cx="609.6" cy="58.6" r="1.12" fill="#2d80c1"/>
<circle cx="609.6" cy="106.3" r="1.12" fill="#2d80c1"/>
<line x1="609.6" y1="86.2" x2="609.6" y2="90.2" stroke="#3a8fcf" stroke-width="1.0"/>
<line x1="606.6" y1="86.2" x2="612.6" y2="86.2" stroke="#3a8fcf" stroke-width="1.0"/>
<path d="M628.6,110.6 V83.5 H647 V110.6" fill="none" stroke="#d86a5a" stroke-width="1.55"/>
<rect x="636.41" y="69.11" width="1.7" height="1.7" fill="#d46050"/>
<rect x="637.87" y="69.48" width="1.7" height="1.7" fill="#d46050"/>
<rect x="635.81" y="71.46" width="1.7" height="1.7" fill="#d46050"/>
<rect x="638.38" y="71.38" width="1.7" height="1.7" fill="#d46050"/>
<rect x="638.77" y="73.2" width="1.7" height="1.7" fill="#d46050"/>
<rect x="635.17" y="75.7" width="1.7" height="1.7" fill="#d46050"/>
<rect x="639.35" y="75.75" width="1.7" height="1.7" fill="#d46050"/>
<rect x="633.93" y="77.32" width="1.7" height="1.7" fill="#d46050"/>
<rect x="637.18" y="77.77" width="1.7" height="1.7" fill="#d46050"/>
<rect x="639.97" y="77.88" width="1.7" height="1.7" fill="#d46050"/>
<rect x="634.94" y="79.8" width="1.7" height="1.7" fill="#d46050"/>
<rect x="637.11" y="79.42" width="1.7" height="1.7" fill="#d46050"/>
<rect x="639.67" y="79.31" width="1.7" height="1.7" fill="#d46050"/>
<rect x="641.81" y="79.5" width="1.7" height="1.7" fill="#d46050"/>
<rect x="630.25" y="81.63" width="1.7" height="1.7" fill="#d46050"/>
<rect x="632.44" y="81.88" width="1.7" height="1.7" fill="#d46050"/>
<rect x="634.98" y="81.46" width="1.7" height="1.7" fill="#d46050"/>
<rect x="636.96" y="82" width="1.7" height="1.7" fill="#d46050"/>
<rect x="639.49" y="81.61" width="1.7" height="1.7" fill="#d46050"/>
<rect x="641.82" y="81.76" width="1.7" height="1.7" fill="#d46050"/>
<rect x="644.02" y="81.53" width="1.7" height="1.7" fill="#d46050"/>
<rect x="630.08" y="83.73" width="1.7" height="1.7" fill="#d46050"/>
<rect x="631.95" y="83.51" width="1.7" height="1.7" fill="#d46050"/>
<rect x="634.47" y="83.92" width="1.7" height="1.7" fill="#d46050"/>
<rect x="636.73" y="83.85" width="1.7" height="1.7" fill="#d46050"/>
<rect x="639.76" y="84.09" width="1.7" height="1.7" fill="#d46050"/>
<rect x="642.08" y="83.74" width="1.7" height="1.7" fill="#d46050"/>
<rect x="644.37" y="83.76" width="1.7" height="1.7" fill="#d46050"/>
<rect x="629.64" y="86.23" width="1.7" height="1.7" fill="#d46050"/>
<rect x="631.58" y="85.71" width="1.7" height="1.7" fill="#d46050"/>
<rect x="633.75" y="85.67" width="1.7" height="1.7" fill="#d46050"/>
<rect x="635.87" y="86.16" width="1.7" height="1.7" fill="#d46050"/>
<rect x="638.29" y="86.29" width="1.7" height="1.7" fill="#d46050"/>
<rect x="640.18" y="86.28" width="1.7" height="1.7" fill="#d46050"/>
<rect x="642.3" y="85.71" width="1.7" height="1.7" fill="#d46050"/>
<rect x="644.44" y="86.22" width="1.7" height="1.7" fill="#d46050"/>
<rect x="630.23" y="88.39" width="1.7" height="1.7" fill="#d46050"/>
<rect x="634.92" y="88.23" width="1.7" height="1.7" fill="#d46050"/>
<rect x="639.07" y="88.23" width="1.7" height="1.7" fill="#d46050"/>
<rect x="641.79" y="88.28" width="1.7" height="1.7" fill="#d46050"/>
<rect x="643.41" y="88.13" width="1.7" height="1.7" fill="#d46050"/>
<rect x="632.12" y="90.35" width="1.7" height="1.7" fill="#d46050"/>
<rect x="634.83" y="90.22" width="1.7" height="1.7" fill="#d46050"/>
<rect x="637.27" y="89.92" width="1.7" height="1.7" fill="#d46050"/>
<rect x="633.79" y="92.39" width="1.7" height="1.7" fill="#d46050"/>
<rect x="635.95" y="92.43" width="1.7" height="1.7" fill="#d46050"/>
<rect x="637.81" y="92.29" width="1.7" height="1.7" fill="#d46050"/>
<rect x="637.05" y="51.45" width="1.7" height="1.7" fill="#d46050"/>
<rect x="637.05" y="55.45" width="1.7" height="1.7" fill="#d46050"/>
<rect x="637.05" y="59.35" width="1.7" height="1.7" fill="#d46050"/>
<rect x="637.05" y="64.75" width="1.7" height="1.7" fill="#d46050"/>
<rect x="637.05" y="68.75" width="1.7" height="1.7" fill="#d46050"/>
<rect x="637.05" y="97.65" width="1.7" height="1.7" fill="#d46050"/>
<line x1="637.9" y1="81.5" x2="637.9" y2="85.5" stroke="#d86a5a" stroke-width="1.0"/>
<line x1="634.9" y1="81.5" x2="640.9" y2="81.5" stroke="#d86a5a" stroke-width="1.0"/>
<line x1="590.1" y1="34.6" x2="590.1" y2="110.6" stroke="#111" stroke-width="1.2"/>
<line x1="586.3" y1="110.6" x2="657.5" y2="110.6" stroke="#111" stroke-width="1.2"/>
<text x="585.3" y="114.9" style="font-family:'Liberation Serif',serif;font-size:8.9px;font-weight:bold" text-anchor="end" fill="#111">0</text>
<line x1="585.9" y1="95.4" x2="590.1" y2="95.4" stroke="#111" stroke-width="1.1"/>
<text x="585.8" y="99.7" style="font-family:'Liberation Serif',serif;font-size:8.9px;font-weight:bold" text-anchor="end" fill="#111">5×10</text>
<text x="585.8" y="96.5" style="font-family:'Liberation Serif',serif;font-size:5.3px;font-weight:bold" fill="#111">8</text>
<line x1="585.9" y1="80.2" x2="590.1" y2="80.2" stroke="#111" stroke-width="1.1"/>
<text x="585.8" y="84.5" style="font-family:'Liberation Serif',serif;font-size:8.9px;font-weight:bold" text-anchor="end" fill="#111">1×10</text>
<text x="585.8" y="81.3" style="font-family:'Liberation Serif',serif;font-size:5.3px;font-weight:bold" fill="#111">9</text>
<line x1="585.9" y1="65" x2="590.1" y2="65" stroke="#111" stroke-width="1.1"/>
<text x="585.8" y="69.3" style="font-family:'Liberation Serif',serif;font-size:8.9px;font-weight:bold" text-anchor="end" fill="#111">1.5×10</text>
<text x="585.8" y="66.1" style="font-family:'Liberation Serif',serif;font-size:5.3px;font-weight:bold" fill="#111">9</text>
<line x1="585.9" y1="49.8" x2="590.1" y2="49.8" stroke="#111" stroke-width="1.1"/>
<text x="585.8" y="54.1" style="font-family:'Liberation Serif',serif;font-size:8.9px;font-weight:bold" text-anchor="end" fill="#111">2×10</text>
<text x="585.8" y="50.9" style="font-family:'Liberation Serif',serif;font-size:5.3px;font-weight:bold" fill="#111">9</text>
<line x1="585.9" y1="34.6" x2="590.1" y2="34.6" stroke="#111" stroke-width="1.1"/>
<text x="585.8" y="38.9" style="font-family:'Liberation Serif',serif;font-size:8.9px;font-weight:bold" text-anchor="end" fill="#111">2.5×10</text>
<text x="585.8" y="35.7" style="font-family:'Liberation Serif',serif;font-size:5.3px;font-weight:bold" fill="#111">9</text>
<line x1="609.6" y1="110.6" x2="609.6" y2="114.1" stroke="#111" stroke-width="1.1"/>
<line x1="637.9" y1="110.6" x2="637.9" y2="114.1" stroke="#111" stroke-width="1.1"/>
<line x1="611.2" y1="41.4" x2="638" y2="41.4" stroke="#000" stroke-width="1.3"/>
<polygon points="618.28,37.05 618.83,38.43 620.32,38.54 619.18,39.49 619.54,40.94 618.28,40.15 617.01,40.94 617.37,39.49 616.23,38.54 617.72,38.43" fill="#111"/>
<polygon points="622.73,37.05 623.28,38.43 624.77,38.54 623.63,39.49 623.99,40.94 622.73,40.15 621.46,40.94 621.82,39.49 620.68,38.54 622.17,38.43" fill="#111"/>
<polygon points="627.18,37.05 627.73,38.43 629.22,38.54 628.08,39.49 628.44,40.94 627.18,40.15 625.91,40.94 626.27,39.49 625.13,38.54 626.62,38.43" fill="#111"/>
<polygon points="631.62,37.05 632.18,38.43 633.67,38.54 632.53,39.49 632.89,40.94 631.62,40.15 630.36,40.94 630.72,39.49 629.58,38.54 631.07,38.43" fill="#111"/>
<text x="581.2" y="123.3" style="font-family:'Liberation Serif',serif;font-size:7.8px;font-weight:bold" fill="#111" textLength="44.3" lengthAdjust="spacingAndGlyphs">suspected PE</text>
<text x="625.5" y="120.1" style="font-family:'Liberation Serif',serif;font-size:4.6px;font-weight:bold" fill="#111">−</text>
<text x="630.9" y="123.3" style="font-family:'Liberation Serif',serif;font-size:7.8px;font-weight:bold" fill="#111" textLength="43.5" lengthAdjust="spacingAndGlyphs">suspected PE</text>
<text x="674.4" y="120.1" style="font-family:'Liberation Serif',serif;font-size:4.6px;font-weight:bold" fill="#111">+</text>
<text x="333.8" y="153.7" style="font-family:'Liberation Serif',serif;font-size:9px;font-weight:bold" fill="#111" textLength="83.2" lengthAdjust="spacingAndGlyphs">LysoPE(16:1(9Z)/0:0)</text>
<text x="319.5" y="194.9" style="font-family:'Liberation Serif',serif;font-size:8.4px;font-weight:bold" fill="#111" text-anchor="middle" transform="rotate(-90 319.5 194.9)" textLength="70.6" lengthAdjust="spacingAndGlyphs">Relative abundance</text>
<path d="M360.5,246.5 V222.3 H378.3 V246.5" fill="none" stroke="#3a8fcf" stroke-width="1.55"/>
<circle cx="369.55" cy="189.36" r="1.12" fill="#2d80c1"/>
<circle cx="369.1" cy="191.07" r="1.12" fill="#2d80c1"/>
<circle cx="369.32" cy="193.07" r="1.12" fill="#2d80c1"/>
<circle cx="369.11" cy="196.21" r="1.12" fill="#2d80c1"/>
<circle cx="369.07" cy="198.01" r="1.12" fill="#2d80c1"/>
<circle cx="369.14" cy="200.02" r="1.12" fill="#2d80c1"/>
<circle cx="369.34" cy="201.96" r="1.12" fill="#2d80c1"/>
<circle cx="368.38" cy="203.8" r="1.12" fill="#2d80c1"/>
<circle cx="370.59" cy="203.42" r="1.12" fill="#2d80c1"/>
<circle cx="367.65" cy="205.71" r="1.12" fill="#2d80c1"/>
<circle cx="369.38" cy="205.23" r="1.12" fill="#2d80c1"/>
<circle cx="371.01" cy="205.74" r="1.12" fill="#2d80c1"/>
<circle cx="367.39" cy="207.22" r="1.12" fill="#2d80c1"/>
<circle cx="368.5" cy="207.19" r="1.12" fill="#2d80c1"/>
<circle cx="370.11" cy="207.03" r="1.12" fill="#2d80c1"/>
<circle cx="371.98" cy="206.92" r="1.12" fill="#2d80c1"/>
<circle cx="366.78" cy="208.71" r="1.12" fill="#2d80c1"/>
<circle cx="368.83" cy="209.34" r="1.12" fill="#2d80c1"/>
<circle cx="370.51" cy="209.15" r="1.12" fill="#2d80c1"/>
<circle cx="372.19" cy="209.07" r="1.12" fill="#2d80c1"/>
<circle cx="366.32" cy="210.76" r="1.12" fill="#2d80c1"/>
<circle cx="367.44" cy="210.76" r="1.12" fill="#2d80c1"/>
<circle cx="369.5" cy="211.06" r="1.12" fill="#2d80c1"/>
<circle cx="371.1" cy="210.89" r="1.12" fill="#2d80c1"/>
<circle cx="372.62" cy="210.85" r="1.12" fill="#2d80c1"/>
<circle cx="365.28" cy="212.58" r="1.12" fill="#2d80c1"/>
<circle cx="367.01" cy="212.72" r="1.12" fill="#2d80c1"/>
<circle cx="368.72" cy="212.84" r="1.12" fill="#2d80c1"/>
<circle cx="370.54" cy="212.47" r="1.12" fill="#2d80c1"/>
<circle cx="371.6" cy="212.5" r="1.12" fill="#2d80c1"/>
<circle cx="373.11" cy="212.68" r="1.12" fill="#2d80c1"/>
<circle cx="364.94" cy="214.53" r="1.12" fill="#2d80c1"/>
<circle cx="366.42" cy="214.49" r="1.12" fill="#2d80c1"/>
<circle cx="368.11" cy="214.67" r="1.12" fill="#2d80c1"/>
<circle cx="370.12" cy="214.35" r="1.12" fill="#2d80c1"/>
<circle cx="372.52" cy="214.25" r="1.12" fill="#2d80c1"/>
<circle cx="374.34" cy="214.27" r="1.12" fill="#2d80c1"/>
<circle cx="363.91" cy="216.13" r="1.12" fill="#2d80c1"/>
<circle cx="365.61" cy="216.41" r="1.12" fill="#2d80c1"/>
<circle cx="367.31" cy="216.39" r="1.12" fill="#2d80c1"/>
<circle cx="369.53" cy="216.23" r="1.12" fill="#2d80c1"/>
<circle cx="371.54" cy="215.86" r="1.12" fill="#2d80c1"/>
<circle cx="372.73" cy="216.08" r="1.12" fill="#2d80c1"/>
<circle cx="374.87" cy="216.32" r="1.12" fill="#2d80c1"/>
<circle cx="363.01" cy="217.66" r="1.12" fill="#2d80c1"/>
<circle cx="365.15" cy="218.04" r="1.12" fill="#2d80c1"/>
<circle cx="366.42" cy="218.3" r="1.12" fill="#2d80c1"/>
<circle cx="368.76" cy="218.2" r="1.12" fill="#2d80c1"/>
<circle cx="370.5" cy="217.83" r="1.12" fill="#2d80c1"/>
<circle cx="372.02" cy="218.19" r="1.12" fill="#2d80c1"/>
<circle cx="374.02" cy="218.06" r="1.12" fill="#2d80c1"/>
<circle cx="375.41" cy="218.12" r="1.12" fill="#2d80c1"/>
<circle cx="362.47" cy="219.96" r="1.12" fill="#2d80c1"/>
<circle cx="364.51" cy="219.53" r="1.12" fill="#2d80c1"/>
<circle cx="366.01" cy="219.93" r="1.12" fill="#2d80c1"/>
<circle cx="367.97" cy="219.77" r="1.12" fill="#2d80c1"/>
<circle cx="369.09" cy="219.65" r="1.12" fill="#2d80c1"/>
<circle cx="371.34" cy="219.82" r="1.12" fill="#2d80c1"/>
<circle cx="372.94" cy="219.68" r="1.12" fill="#2d80c1"/>
<circle cx="374.52" cy="219.59" r="1.12" fill="#2d80c1"/>
<circle cx="376.44" cy="219.67" r="1.12" fill="#2d80c1"/>
<circle cx="362.28" cy="221.44" r="1.12" fill="#2d80c1"/>
<circle cx="363.82" cy="221.48" r="1.12" fill="#2d80c1"/>
<circle cx="365.48" cy="221.53" r="1.12" fill="#2d80c1"/>
<circle cx="367.7" cy="221.46" r="1.12" fill="#2d80c1"/>
<circle cx="369.39" cy="221.71" r="1.12" fill="#2d80c1"/>
<circle cx="371.44" cy="221.74" r="1.12" fill="#2d80c1"/>
<circle cx="372.71" cy="221.35" r="1.12" fill="#2d80c1"/>
<circle cx="374.79" cy="221.93" r="1.12" fill="#2d80c1"/>
<circle cx="376.9" cy="221.77" r="1.12" fill="#2d80c1"/>
<circle cx="362.02" cy="223.71" r="1.12" fill="#2d80c1"/>
<circle cx="363.41" cy="223.13" r="1.12" fill="#2d80c1"/>
<circle cx="365.51" cy="223.51" r="1.12" fill="#2d80c1"/>
<circle cx="366.57" cy="223.37" r="1.12" fill="#2d80c1"/>
<circle cx="368.47" cy="223.06" r="1.12" fill="#2d80c1"/>
<circle cx="370.5" cy="223.56" r="1.12" fill="#2d80c1"/>
<circle cx="371.74" cy="223.52" r="1.12" fill="#2d80c1"/>
<circle cx="373.42" cy="223.72" r="1.12" fill="#2d80c1"/>
<circle cx="375.08" cy="223.2" r="1.12" fill="#2d80c1"/>
<circle cx="377.02" cy="223.46" r="1.12" fill="#2d80c1"/>
<circle cx="362.14" cy="225.49" r="1.12" fill="#2d80c1"/>
<circle cx="363.84" cy="225.02" r="1.12" fill="#2d80c1"/>
<circle cx="365.75" cy="225.4" r="1.12" fill="#2d80c1"/>
<circle cx="367.76" cy="225.27" r="1.12" fill="#2d80c1"/>
<circle cx="369.57" cy="225.54" r="1.12" fill="#2d80c1"/>
<circle cx="371.36" cy="225.01" r="1.12" fill="#2d80c1"/>
<circle cx="372.98" cy="225.27" r="1.12" fill="#2d80c1"/>
<circle cx="374.81" cy="225.23" r="1.12" fill="#2d80c1"/>
<circle cx="376.32" cy="224.94" r="1.12" fill="#2d80c1"/>
<circle cx="362.72" cy="226.75" r="1.12" fill="#2d80c1"/>
<circle cx="364.64" cy="227.23" r="1.12" fill="#2d80c1"/>
<circle cx="366.96" cy="227.17" r="1.12" fill="#2d80c1"/>
<circle cx="368.29" cy="227.35" r="1.12" fill="#2d80c1"/>
<circle cx="370.58" cy="226.79" r="1.12" fill="#2d80c1"/>
<circle cx="371.9" cy="227.02" r="1.12" fill="#2d80c1"/>
<circle cx="374.02" cy="226.75" r="1.12" fill="#2d80c1"/>
<circle cx="375.82" cy="227.3" r="1.12" fill="#2d80c1"/>
<circle cx="363.69" cy="228.49" r="1.12" fill="#2d80c1"/>
<circle cx="365.19" cy="228.89" r="1.12" fill="#2d80c1"/>
<circle cx="367.14" cy="228.64" r="1.12" fill="#2d80c1"/>
<circle cx="368.23" cy="228.55" r="1.12" fill="#2d80c1"/>
<circle cx="370.47" cy="228.66" r="1.12" fill="#2d80c1"/>
<circle cx="372.19" cy="228.86" r="1.12" fill="#2d80c1"/>
<circle cx="373.86" cy="228.85" r="1.12" fill="#2d80c1"/>
<circle cx="375.17" cy="228.71" r="1.12" fill="#2d80c1"/>
<circle cx="364.45" cy="230.51" r="1.12" fill="#2d80c1"/>
<circle cx="366.01" cy="230.83" r="1.12" fill="#2d80c1"/>
<circle cx="368.08" cy="230.36" r="1.12" fill="#2d80c1"/>
<circle cx="369.55" cy="230.38" r="1.12" fill="#2d80c1"/>
<circle cx="371.03" cy="230.37" r="1.12" fill="#2d80c1"/>
<circle cx="373.01" cy="230.81" r="1.12" fill="#2d80c1"/>
<circle cx="374.56" cy="230.28" r="1.12" fill="#2d80c1"/>
<circle cx="365.53" cy="232.66" r="1.12" fill="#2d80c1"/>
<circle cx="367.18" cy="232.64" r="1.12" fill="#2d80c1"/>
<circle cx="368.91" cy="232.35" r="1.12" fill="#2d80c1"/>
<circle cx="370.37" cy="232.33" r="1.12" fill="#2d80c1"/>
<circle cx="371.93" cy="232.16" r="1.12" fill="#2d80c1"/>
<circle cx="373.36" cy="232.47" r="1.12" fill="#2d80c1"/>
<circle cx="366.5" cy="234.13" r="1.12" fill="#2d80c1"/>
<circle cx="368.21" cy="233.86" r="1.12" fill="#2d80c1"/>
<circle cx="370.51" cy="234.39" r="1.12" fill="#2d80c1"/>
<circle cx="372.71" cy="233.96" r="1.12" fill="#2d80c1"/>
<circle cx="367.38" cy="236.11" r="1.12" fill="#2d80c1"/>
<circle cx="369.1" cy="236.07" r="1.12" fill="#2d80c1"/>
<circle cx="371.37" cy="235.72" r="1.12" fill="#2d80c1"/>
<line x1="369.4" y1="220.3" x2="369.4" y2="224.3" stroke="#3a8fcf" stroke-width="1.0"/>
<line x1="366.4" y1="220.3" x2="372.4" y2="220.3" stroke="#3a8fcf" stroke-width="1.0"/>
<path d="M388.3,246.5 V217.9 H406.9 V246.5" fill="none" stroke="#d86a5a" stroke-width="1.55"/>
<rect x="396.95" y="197.04" width="1.7" height="1.7" fill="#d46050"/>
<rect x="396.24" y="201.13" width="1.7" height="1.7" fill="#d46050"/>
<rect x="395.29" y="205.56" width="1.7" height="1.7" fill="#d46050"/>
<rect x="396.15" y="207.72" width="1.7" height="1.7" fill="#d46050"/>
<rect x="397.94" y="207.34" width="1.7" height="1.7" fill="#d46050"/>
<rect x="399.65" y="207.33" width="1.7" height="1.7" fill="#d46050"/>
<rect x="392.99" y="209.93" width="1.7" height="1.7" fill="#d46050"/>
<rect x="394.81" y="211.88" width="1.7" height="1.7" fill="#d46050"/>
<rect x="397.11" y="211.98" width="1.7" height="1.7" fill="#d46050"/>
<rect x="399.11" y="211.83" width="1.7" height="1.7" fill="#d46050"/>
<rect x="396.56" y="214.13" width="1.7" height="1.7" fill="#d46050"/>
<rect x="398.95" y="214.25" width="1.7" height="1.7" fill="#d46050"/>
<rect x="392.4" y="216.38" width="1.7" height="1.7" fill="#d46050"/>
<rect x="394.34" y="216.02" width="1.7" height="1.7" fill="#d46050"/>
<rect x="396.53" y="216.29" width="1.7" height="1.7" fill="#d46050"/>
<rect x="401.76" y="215.82" width="1.7" height="1.7" fill="#d46050"/>
<rect x="395.5" y="218.11" width="1.7" height="1.7" fill="#d46050"/>
<rect x="397.97" y="217.9" width="1.7" height="1.7" fill="#d46050"/>
<rect x="402.14" y="218.21" width="1.7" height="1.7" fill="#d46050"/>
<rect x="395.68" y="220.41" width="1.7" height="1.7" fill="#d46050"/>
<rect x="398.1" y="220.03" width="1.7" height="1.7" fill="#d46050"/>
<rect x="400.53" y="220.53" width="1.7" height="1.7" fill="#d46050"/>
<rect x="390.66" y="222.26" width="1.7" height="1.7" fill="#d46050"/>
<rect x="392.63" y="222.21" width="1.7" height="1.7" fill="#d46050"/>
<rect x="399.34" y="222.62" width="1.7" height="1.7" fill="#d46050"/>
<rect x="401.25" y="222.39" width="1.7" height="1.7" fill="#d46050"/>
<rect x="403.43" y="222.01" width="1.7" height="1.7" fill="#d46050"/>
<rect x="390.09" y="224.66" width="1.7" height="1.7" fill="#d46050"/>
<rect x="392.19" y="224.43" width="1.7" height="1.7" fill="#d46050"/>
<rect x="396.57" y="224.69" width="1.7" height="1.7" fill="#d46050"/>
<rect x="398.88" y="224.25" width="1.7" height="1.7" fill="#d46050"/>
<rect x="403.7" y="224.5" width="1.7" height="1.7" fill="#d46050"/>
<rect x="389.96" y="226.33" width="1.7" height="1.7" fill="#d46050"/>
<rect x="391.8" y="226.66" width="1.7" height="1.7" fill="#d46050"/>
<rect x="394.57" y="226.66" width="1.7" height="1.7" fill="#d46050"/>
<rect x="397.18" y="226.3" width="1.7" height="1.7" fill="#d46050"/>
<rect x="399.42" y="226.39" width="1.7" height="1.7" fill="#d46050"/>
<rect x="394.14" y="228.63" width="1.7" height="1.7" fill="#d46050"/>
<rect x="399.11" y="228.49" width="1.7" height="1.7" fill="#d46050"/>
<rect x="402.13" y="228.98" width="1.7" height="1.7" fill="#d46050"/>
<rect x="395.8" y="231.01" width="1.7" height="1.7" fill="#d46050"/>
<rect x="396.85" y="184.05" width="1.7" height="1.7" fill="#d46050"/>
<rect x="396.85" y="195.55" width="1.7" height="1.7" fill="#d46050"/>
<line x1="397.7" y1="215.9" x2="397.7" y2="219.9" stroke="#d86a5a" stroke-width="1.0"/>
<line x1="394.7" y1="215.9" x2="400.7" y2="215.9" stroke="#d86a5a" stroke-width="1.0"/>
<line x1="351.1" y1="166.9" x2="351.1" y2="246.5" stroke="#111" stroke-width="1.2"/>
<line x1="346.8" y1="246.5" x2="416.6" y2="246.5" stroke="#111" stroke-width="1.2"/>
<text x="345.2" y="250.8" style="font-family:'Liberation Serif',serif;font-size:8.65px;font-weight:bold" text-anchor="end" fill="#111">0</text>
<line x1="346.9" y1="226.6" x2="351.1" y2="226.6" stroke="#111" stroke-width="1.1"/>
<text x="344.7" y="230.9" style="font-family:'Liberation Serif',serif;font-size:8.65px;font-weight:bold" text-anchor="end" fill="#111">1×10</text>
<text x="344.7" y="227.7" style="font-family:'Liberation Serif',serif;font-size:5.3px;font-weight:bold" fill="#111">9</text>
<line x1="346.9" y1="206.7" x2="351.1" y2="206.7" stroke="#111" stroke-width="1.1"/>
<text x="344.7" y="211" style="font-family:'Liberation Serif',serif;font-size:8.65px;font-weight:bold" text-anchor="end" fill="#111">2×10</text>
<text x="344.7" y="207.8" style="font-family:'Liberation Serif',serif;font-size:5.3px;font-weight:bold" fill="#111">9</text>
<line x1="346.9" y1="186.8" x2="351.1" y2="186.8" stroke="#111" stroke-width="1.1"/>
<text x="344.7" y="191.1" style="font-family:'Liberation Serif',serif;font-size:8.65px;font-weight:bold" text-anchor="end" fill="#111">3×10</text>
<text x="344.7" y="187.9" style="font-family:'Liberation Serif',serif;font-size:5.3px;font-weight:bold" fill="#111">9</text>
<line x1="346.9" y1="166.9" x2="351.1" y2="166.9" stroke="#111" stroke-width="1.1"/>
<text x="344.7" y="171.2" style="font-family:'Liberation Serif',serif;font-size:8.65px;font-weight:bold" text-anchor="end" fill="#111">4×10</text>
<text x="344.7" y="168" style="font-family:'Liberation Serif',serif;font-size:5.3px;font-weight:bold" fill="#111">9</text>
<line x1="369.4" y1="246.5" x2="369.4" y2="250" stroke="#111" stroke-width="1.1"/>
<line x1="397.7" y1="246.5" x2="397.7" y2="250" stroke="#111" stroke-width="1.1"/>
<line x1="366" y1="169.5" x2="395.7" y2="169.5" stroke="#000" stroke-width="1.3"/>
<polygon points="379.32,165.35 379.88,166.73 381.37,166.84 380.23,167.79 380.59,169.24 379.32,168.45 378.06,169.24 378.42,167.79 377.28,166.84 378.77,166.73" fill="#111"/>
<polygon points="383.78,165.35 384.33,166.73 385.82,166.84 384.68,167.79 385.04,169.24 383.78,168.45 382.51,169.24 382.87,167.79 381.73,166.84 383.22,166.73" fill="#111"/>
<text x="335" y="257.7" style="font-family:'Liberation Serif',serif;font-size:7.8px;font-weight:bold" fill="#111" textLength="43.4" lengthAdjust="spacingAndGlyphs">suspected PE</text>
<text x="378.4" y="254.5" style="font-family:'Liberation Serif',serif;font-size:4.6px;font-weight:bold" fill="#111">−</text>
<text x="384.8" y="257.7" style="font-family:'Liberation Serif',serif;font-size:7.8px;font-weight:bold" fill="#111" textLength="43.7" lengthAdjust="spacingAndGlyphs">suspected PE</text>
<text x="428.5" y="254.5" style="font-family:'Liberation Serif',serif;font-size:4.6px;font-weight:bold" fill="#111">+</text>
<text x="452.3" y="153.7" style="font-family:'Liberation Serif',serif;font-size:9px;font-weight:bold" fill="#111" textLength="121.8" lengthAdjust="spacingAndGlyphs">PC(DiMe(13,5)/MonoMe(13,5))</text>
<path d="M490.4,241.6 V227.1 H507.1 V241.6" fill="none" stroke="#3a8fcf" stroke-width="1.55"/>
<circle cx="498.86" cy="206.56" r="1.12" fill="#2d80c1"/>
<circle cx="498.48" cy="208.35" r="1.12" fill="#2d80c1"/>
<circle cx="498.14" cy="209.77" r="1.12" fill="#2d80c1"/>
<circle cx="497.86" cy="211.91" r="1.12" fill="#2d80c1"/>
<circle cx="499.37" cy="212.05" r="1.12" fill="#2d80c1"/>
<circle cx="497.7" cy="213.48" r="1.12" fill="#2d80c1"/>
<circle cx="499.71" cy="213.54" r="1.12" fill="#2d80c1"/>
<circle cx="497.27" cy="215.23" r="1.12" fill="#2d80c1"/>
<circle cx="498.75" cy="215.12" r="1.12" fill="#2d80c1"/>
<circle cx="500.37" cy="215.63" r="1.12" fill="#2d80c1"/>
<circle cx="496.46" cy="217.5" r="1.12" fill="#2d80c1"/>
<circle cx="499.04" cy="216.99" r="1.12" fill="#2d80c1"/>
<circle cx="500.56" cy="217.32" r="1.12" fill="#2d80c1"/>
<circle cx="495.83" cy="219.09" r="1.12" fill="#2d80c1"/>
<circle cx="498.08" cy="218.78" r="1.12" fill="#2d80c1"/>
<circle cx="499.34" cy="218.91" r="1.12" fill="#2d80c1"/>
<circle cx="501.36" cy="219.09" r="1.12" fill="#2d80c1"/>
<circle cx="494.59" cy="220.46" r="1.12" fill="#2d80c1"/>
<circle cx="496.59" cy="220.5" r="1.12" fill="#2d80c1"/>
<circle cx="498.85" cy="220.89" r="1.12" fill="#2d80c1"/>
<circle cx="500.66" cy="220.95" r="1.12" fill="#2d80c1"/>
<circle cx="502.8" cy="220.94" r="1.12" fill="#2d80c1"/>
<circle cx="494.05" cy="222.84" r="1.12" fill="#2d80c1"/>
<circle cx="495.43" cy="222.76" r="1.12" fill="#2d80c1"/>
<circle cx="496.73" cy="222.89" r="1.12" fill="#2d80c1"/>
<circle cx="498.69" cy="222.57" r="1.12" fill="#2d80c1"/>
<circle cx="500.4" cy="222.66" r="1.12" fill="#2d80c1"/>
<circle cx="502.06" cy="222.46" r="1.12" fill="#2d80c1"/>
<circle cx="503.94" cy="222.7" r="1.12" fill="#2d80c1"/>
<circle cx="492.38" cy="224.53" r="1.12" fill="#2d80c1"/>
<circle cx="494.19" cy="224.28" r="1.12" fill="#2d80c1"/>
<circle cx="495.85" cy="224.2" r="1.12" fill="#2d80c1"/>
<circle cx="497.67" cy="224.61" r="1.12" fill="#2d80c1"/>
<circle cx="499.34" cy="224.09" r="1.12" fill="#2d80c1"/>
<circle cx="501.07" cy="224.42" r="1.12" fill="#2d80c1"/>
<circle cx="502.76" cy="224.39" r="1.12" fill="#2d80c1"/>
<circle cx="504.95" cy="224.44" r="1.12" fill="#2d80c1"/>
<circle cx="492.31" cy="226.51" r="1.12" fill="#2d80c1"/>
<circle cx="494.04" cy="226" r="1.12" fill="#2d80c1"/>
<circle cx="496.14" cy="226.28" r="1.12" fill="#2d80c1"/>
<circle cx="498.06" cy="225.94" r="1.12" fill="#2d80c1"/>
<circle cx="499.81" cy="226.49" r="1.12" fill="#2d80c1"/>
<circle cx="501.11" cy="226.24" r="1.12" fill="#2d80c1"/>
<circle cx="502.96" cy="226.09" r="1.12" fill="#2d80c1"/>
<circle cx="504.8" cy="225.97" r="1.12" fill="#2d80c1"/>
<circle cx="492.13" cy="227.87" r="1.12" fill="#2d80c1"/>
<circle cx="493.74" cy="227.66" r="1.12" fill="#2d80c1"/>
<circle cx="495.04" cy="228.21" r="1.12" fill="#2d80c1"/>
<circle cx="496.91" cy="228.22" r="1.12" fill="#2d80c1"/>
<circle cx="498.4" cy="227.72" r="1.12" fill="#2d80c1"/>
<circle cx="500.26" cy="227.96" r="1.12" fill="#2d80c1"/>
<circle cx="502.42" cy="228.12" r="1.12" fill="#2d80c1"/>
<circle cx="503.87" cy="227.81" r="1.12" fill="#2d80c1"/>
<circle cx="505.24" cy="228.06" r="1.12" fill="#2d80c1"/>
<circle cx="492" cy="229.66" r="1.12" fill="#2d80c1"/>
<circle cx="493.25" cy="229.6" r="1.12" fill="#2d80c1"/>
<circle cx="495.43" cy="230.03" r="1.12" fill="#2d80c1"/>
<circle cx="497" cy="229.55" r="1.12" fill="#2d80c1"/>
<circle cx="498.37" cy="230.1" r="1.12" fill="#2d80c1"/>
<circle cx="500.6" cy="229.45" r="1.12" fill="#2d80c1"/>
<circle cx="502.27" cy="229.58" r="1.12" fill="#2d80c1"/>
<circle cx="504.23" cy="229.65" r="1.12" fill="#2d80c1"/>
<circle cx="505.85" cy="230.14" r="1.12" fill="#2d80c1"/>
<circle cx="492.25" cy="231.54" r="1.12" fill="#2d80c1"/>
<circle cx="494.15" cy="231.54" r="1.12" fill="#2d80c1"/>
<circle cx="496.19" cy="231.83" r="1.12" fill="#2d80c1"/>
<circle cx="497.84" cy="231.94" r="1.12" fill="#2d80c1"/>
<circle cx="499.59" cy="231.72" r="1.12" fill="#2d80c1"/>
<circle cx="501.3" cy="231.56" r="1.12" fill="#2d80c1"/>
<circle cx="503.05" cy="231.29" r="1.12" fill="#2d80c1"/>
<circle cx="504.66" cy="231.71" r="1.12" fill="#2d80c1"/>
<circle cx="493.14" cy="233.27" r="1.12" fill="#2d80c1"/>
<circle cx="495.42" cy="233.6" r="1.12" fill="#2d80c1"/>
<circle cx="497.27" cy="233.64" r="1.12" fill="#2d80c1"/>
<circle cx="498.73" cy="233.5" r="1.12" fill="#2d80c1"/>
<circle cx="500.12" cy="233.06" r="1.12" fill="#2d80c1"/>
<circle cx="502.2" cy="233.71" r="1.12" fill="#2d80c1"/>
<circle cx="504.15" cy="233.58" r="1.12" fill="#2d80c1"/>
<circle cx="494.94" cy="235.2" r="1.12" fill="#2d80c1"/>
<circle cx="496.78" cy="235.34" r="1.12" fill="#2d80c1"/>
<circle cx="498.46" cy="234.99" r="1.12" fill="#2d80c1"/>
<circle cx="500.17" cy="235.47" r="1.12" fill="#2d80c1"/>
<circle cx="502.12" cy="235.41" r="1.12" fill="#2d80c1"/>
<circle cx="496.98" cy="236.97" r="1.12" fill="#2d80c1"/>
<circle cx="498.63" cy="237.34" r="1.12" fill="#2d80c1"/>
<circle cx="500.45" cy="236.77" r="1.12" fill="#2d80c1"/>
<circle cx="497.79" cy="239.04" r="1.12" fill="#2d80c1"/>
<circle cx="499.72" cy="238.54" r="1.12" fill="#2d80c1"/>
<circle cx="498.7" cy="179.5" r="1.12" fill="#2d80c1"/>
<circle cx="497.7" cy="196.9" r="1.12" fill="#2d80c1"/>
<circle cx="499.7" cy="196.9" r="1.12" fill="#2d80c1"/>
<circle cx="498.7" cy="199.3" r="1.12" fill="#2d80c1"/>
<circle cx="498.7" cy="203" r="1.12" fill="#2d80c1"/>
<line x1="498.7" y1="225.1" x2="498.7" y2="229.1" stroke="#3a8fcf" stroke-width="1.0"/>
<line x1="495.7" y1="225.1" x2="501.7" y2="225.1" stroke="#3a8fcf" stroke-width="1.0"/>
<path d="M517.2,241.6 V224.5 H533.4 V241.6" fill="none" stroke="#d86a5a" stroke-width="1.55"/>
<rect x="522.02" y="210.33" width="1.7" height="1.7" fill="#d46050"/>
<rect x="524.51" y="210.69" width="1.7" height="1.7" fill="#d46050"/>
<rect x="521.72" y="213.09" width="1.7" height="1.7" fill="#d46050"/>
<rect x="524.26" y="212.53" width="1.7" height="1.7" fill="#d46050"/>
<rect x="520.95" y="214.85" width="1.7" height="1.7" fill="#d46050"/>
<rect x="523.09" y="214.99" width="1.7" height="1.7" fill="#d46050"/>
<rect x="525.63" y="215.13" width="1.7" height="1.7" fill="#d46050"/>
<rect x="527.93" y="215.03" width="1.7" height="1.7" fill="#d46050"/>
<rect x="520.4" y="217.24" width="1.7" height="1.7" fill="#d46050"/>
<rect x="522.12" y="216.96" width="1.7" height="1.7" fill="#d46050"/>
<rect x="526.45" y="216.74" width="1.7" height="1.7" fill="#d46050"/>
<rect x="518.64" y="219.13" width="1.7" height="1.7" fill="#d46050"/>
<rect x="521.06" y="219.22" width="1.7" height="1.7" fill="#d46050"/>
<rect x="523.26" y="218.75" width="1.7" height="1.7" fill="#d46050"/>
<rect x="525.65" y="219.37" width="1.7" height="1.7" fill="#d46050"/>
<rect x="527.48" y="218.84" width="1.7" height="1.7" fill="#d46050"/>
<rect x="530.17" y="218.92" width="1.7" height="1.7" fill="#d46050"/>
<rect x="517.63" y="220.99" width="1.7" height="1.7" fill="#d46050"/>
<rect x="520.2" y="221.39" width="1.7" height="1.7" fill="#d46050"/>
<rect x="522.29" y="221.48" width="1.7" height="1.7" fill="#d46050"/>
<rect x="524.19" y="221.26" width="1.7" height="1.7" fill="#d46050"/>
<rect x="526.33" y="220.86" width="1.7" height="1.7" fill="#d46050"/>
<rect x="528.76" y="220.88" width="1.7" height="1.7" fill="#d46050"/>
<rect x="530.99" y="221.47" width="1.7" height="1.7" fill="#d46050"/>
<rect x="517.69" y="223.57" width="1.7" height="1.7" fill="#d46050"/>
<rect x="519.8" y="222.99" width="1.7" height="1.7" fill="#d46050"/>
<rect x="522.54" y="223.27" width="1.7" height="1.7" fill="#d46050"/>
<rect x="526.35" y="223.16" width="1.7" height="1.7" fill="#d46050"/>
<rect x="528.61" y="222.96" width="1.7" height="1.7" fill="#d46050"/>
<rect x="531.31" y="223.55" width="1.7" height="1.7" fill="#d46050"/>
<rect x="517.93" y="225.18" width="1.7" height="1.7" fill="#d46050"/>
<rect x="524.23" y="225.61" width="1.7" height="1.7" fill="#d46050"/>
<rect x="531.12" y="225.54" width="1.7" height="1.7" fill="#d46050"/>
<rect x="518.17" y="227.64" width="1.7" height="1.7" fill="#d46050"/>
<rect x="520.71" y="227.78" width="1.7" height="1.7" fill="#d46050"/>
<rect x="523.09" y="227.2" width="1.7" height="1.7" fill="#d46050"/>
<rect x="528.56" y="227.77" width="1.7" height="1.7" fill="#d46050"/>
<rect x="531.01" y="227.67" width="1.7" height="1.7" fill="#d46050"/>
<rect x="521.3" y="229.75" width="1.7" height="1.7" fill="#d46050"/>
<rect x="523.56" y="229.62" width="1.7" height="1.7" fill="#d46050"/>
<rect x="525.49" y="229.84" width="1.7" height="1.7" fill="#d46050"/>
<rect x="527.4" y="229.55" width="1.7" height="1.7" fill="#d46050"/>
<rect x="530.15" y="229.84" width="1.7" height="1.7" fill="#d46050"/>
<rect x="519.75" y="231.76" width="1.7" height="1.7" fill="#d46050"/>
<rect x="524.73" y="231.54" width="1.7" height="1.7" fill="#d46050"/>
<rect x="526.88" y="231.82" width="1.7" height="1.7" fill="#d46050"/>
<rect x="528.94" y="231.89" width="1.7" height="1.7" fill="#d46050"/>
<rect x="523.13" y="233.66" width="1.7" height="1.7" fill="#d46050"/>
<rect x="525.41" y="233.46" width="1.7" height="1.7" fill="#d46050"/>
<rect x="527.96" y="233.79" width="1.7" height="1.7" fill="#d46050"/>
<rect x="524.34" y="235.74" width="1.7" height="1.7" fill="#d46050"/>
<rect x="524.45" y="196.45" width="1.7" height="1.7" fill="#d46050"/>
<rect x="524.45" y="206.55" width="1.7" height="1.7" fill="#d46050"/>
<line x1="525.3" y1="222.5" x2="525.3" y2="226.5" stroke="#d86a5a" stroke-width="1.0"/>
<line x1="522.3" y1="222.5" x2="528.3" y2="222.5" stroke="#d86a5a" stroke-width="1.0"/>
<line x1="481" y1="167.1" x2="481" y2="241.6" stroke="#111" stroke-width="1.2"/>
<line x1="478" y1="241.6" x2="543.4" y2="241.6" stroke="#111" stroke-width="1.2"/>
<text x="475.4" y="245.9" style="font-family:'Liberation Serif',serif;font-size:8.2px;font-weight:bold" text-anchor="end" fill="#111">0</text>
<line x1="476.8" y1="226.7" x2="481" y2="226.7" stroke="#111" stroke-width="1.1"/>
<text x="473.2" y="231" style="font-family:'Liberation Serif',serif;font-size:8.2px;font-weight:bold" text-anchor="end" fill="#111">2×10</text>
<text x="473.2" y="227.8" style="font-family:'Liberation Serif',serif;font-size:5.3px;font-weight:bold" fill="#111">6</text>
<line x1="476.8" y1="211.8" x2="481" y2="211.8" stroke="#111" stroke-width="1.1"/>
<text x="473.2" y="216.1" style="font-family:'Liberation Serif',serif;font-size:8.2px;font-weight:bold" text-anchor="end" fill="#111">4×10</text>
<text x="473.2" y="212.9" style="font-family:'Liberation Serif',serif;font-size:5.3px;font-weight:bold" fill="#111">6</text>
<line x1="476.8" y1="196.9" x2="481" y2="196.9" stroke="#111" stroke-width="1.1"/>
<text x="473.2" y="201.2" style="font-family:'Liberation Serif',serif;font-size:8.2px;font-weight:bold" text-anchor="end" fill="#111">6×10</text>
<text x="473.2" y="198" style="font-family:'Liberation Serif',serif;font-size:5.3px;font-weight:bold" fill="#111">6</text>
<line x1="476.8" y1="182" x2="481" y2="182" stroke="#111" stroke-width="1.1"/>
<text x="473.2" y="186.3" style="font-family:'Liberation Serif',serif;font-size:8.2px;font-weight:bold" text-anchor="end" fill="#111">8×10</text>
<text x="473.2" y="183.1" style="font-family:'Liberation Serif',serif;font-size:5.3px;font-weight:bold" fill="#111">6</text>
<line x1="476.8" y1="167.1" x2="481" y2="167.1" stroke="#111" stroke-width="1.1"/>
<text x="473.2" y="171.4" style="font-family:'Liberation Serif',serif;font-size:8.2px;font-weight:bold" text-anchor="end" fill="#111">1×10</text>
<text x="473.2" y="168.2" style="font-family:'Liberation Serif',serif;font-size:5.3px;font-weight:bold" fill="#111">7</text>
<line x1="498.7" y1="241.6" x2="498.7" y2="245.1" stroke="#111" stroke-width="1.1"/>
<line x1="525.3" y1="241.6" x2="525.3" y2="245.1" stroke="#111" stroke-width="1.1"/>
<line x1="500.1" y1="171.5" x2="523.3" y2="171.5" stroke="#000" stroke-width="1.3"/>
<polygon points="509.88,166.65 510.43,168.03 511.92,168.14 510.78,169.09 511.14,170.54 509.88,169.75 508.61,170.54 508.97,169.09 507.83,168.14 509.32,168.03" fill="#111"/>
<polygon points="514.33,166.65 514.88,168.03 516.37,168.14 515.23,169.09 515.59,170.54 514.33,169.75 513.06,170.54 513.42,169.09 512.28,168.14 513.77,168.03" fill="#111"/>
<text x="463.9" y="255" style="font-family:'Liberation Serif',serif;font-size:7.8px;font-weight:bold" fill="#111" textLength="44.8" lengthAdjust="spacingAndGlyphs">suspected PE</text>
<text x="508.7" y="251.8" style="font-family:'Liberation Serif',serif;font-size:4.6px;font-weight:bold" fill="#111">−</text>
<text x="513.3" y="255" style="font-family:'Liberation Serif',serif;font-size:7.8px;font-weight:bold" fill="#111" textLength="42.7" lengthAdjust="spacingAndGlyphs">suspected PE</text>
<text x="556" y="251.8" style="font-family:'Liberation Serif',serif;font-size:4.6px;font-weight:bold" fill="#111">+</text>
<text x="583.9" y="149.9" style="font-family:'Liberation Serif',serif;font-size:9px;font-weight:bold" fill="#111" textLength="94.9" lengthAdjust="spacingAndGlyphs">phenylalanyl-tryptophan</text>
<path d="M613.3,242.2 V221 H630.3 V242.2" fill="none" stroke="#3a8fcf" stroke-width="1.55"/>
<circle cx="621.09" cy="202.4" r="1.12" fill="#2d80c1"/>
<circle cx="622.27" cy="202.39" r="1.12" fill="#2d80c1"/>
<circle cx="620.49" cy="203.89" r="1.12" fill="#2d80c1"/>
<circle cx="622.63" cy="204.11" r="1.12" fill="#2d80c1"/>
<circle cx="620.02" cy="205.75" r="1.12" fill="#2d80c1"/>
<circle cx="621.77" cy="206.07" r="1.12" fill="#2d80c1"/>
<circle cx="623.16" cy="206.14" r="1.12" fill="#2d80c1"/>
<circle cx="620.1" cy="207.82" r="1.12" fill="#2d80c1"/>
<circle cx="621.63" cy="207.9" r="1.12" fill="#2d80c1"/>
<circle cx="623.91" cy="207.33" r="1.12" fill="#2d80c1"/>
<circle cx="619.25" cy="209.67" r="1.12" fill="#2d80c1"/>
<circle cx="621.22" cy="209.57" r="1.12" fill="#2d80c1"/>
<circle cx="622.74" cy="209.4" r="1.12" fill="#2d80c1"/>
<circle cx="624.63" cy="209.63" r="1.12" fill="#2d80c1"/>
<circle cx="618.36" cy="211.52" r="1.12" fill="#2d80c1"/>
<circle cx="620.35" cy="211.34" r="1.12" fill="#2d80c1"/>
<circle cx="621.74" cy="211.05" r="1.12" fill="#2d80c1"/>
<circle cx="623.29" cy="210.93" r="1.12" fill="#2d80c1"/>
<circle cx="625.5" cy="211.46" r="1.12" fill="#2d80c1"/>
<circle cx="617.44" cy="212.66" r="1.12" fill="#2d80c1"/>
<circle cx="618.84" cy="213.26" r="1.12" fill="#2d80c1"/>
<circle cx="621.07" cy="212.97" r="1.12" fill="#2d80c1"/>
<circle cx="622.93" cy="213.11" r="1.12" fill="#2d80c1"/>
<circle cx="624.54" cy="212.9" r="1.12" fill="#2d80c1"/>
<circle cx="626.05" cy="212.82" r="1.12" fill="#2d80c1"/>
<circle cx="615.9" cy="214.51" r="1.12" fill="#2d80c1"/>
<circle cx="617.92" cy="214.79" r="1.12" fill="#2d80c1"/>
<circle cx="619.55" cy="214.69" r="1.12" fill="#2d80c1"/>
<circle cx="620.65" cy="215.07" r="1.12" fill="#2d80c1"/>
<circle cx="622.37" cy="214.7" r="1.12" fill="#2d80c1"/>
<circle cx="624.65" cy="214.6" r="1.12" fill="#2d80c1"/>
<circle cx="625.81" cy="215.05" r="1.12" fill="#2d80c1"/>
<circle cx="627.77" cy="215.04" r="1.12" fill="#2d80c1"/>
<circle cx="614.76" cy="216.26" r="1.12" fill="#2d80c1"/>
<circle cx="616.67" cy="216.78" r="1.12" fill="#2d80c1"/>
<circle cx="617.98" cy="216.77" r="1.12" fill="#2d80c1"/>
<circle cx="620.3" cy="216.78" r="1.12" fill="#2d80c1"/>
<circle cx="621.69" cy="216.5" r="1.12" fill="#2d80c1"/>
<circle cx="623.65" cy="216.49" r="1.12" fill="#2d80c1"/>
<circle cx="625.12" cy="216.43" r="1.12" fill="#2d80c1"/>
<circle cx="626.91" cy="216.79" r="1.12" fill="#2d80c1"/>
<circle cx="629.11" cy="216.27" r="1.12" fill="#2d80c1"/>
<circle cx="615.59" cy="218.29" r="1.12" fill="#2d80c1"/>
<circle cx="617.46" cy="218.27" r="1.12" fill="#2d80c1"/>
<circle cx="619.08" cy="218.38" r="1.12" fill="#2d80c1"/>
<circle cx="620.89" cy="218.07" r="1.12" fill="#2d80c1"/>
<circle cx="622.55" cy="218.37" r="1.12" fill="#2d80c1"/>
<circle cx="624.53" cy="218.1" r="1.12" fill="#2d80c1"/>
<circle cx="626.06" cy="218.67" r="1.12" fill="#2d80c1"/>
<circle cx="628.2" cy="218.11" r="1.12" fill="#2d80c1"/>
<circle cx="616.48" cy="220.37" r="1.12" fill="#2d80c1"/>
<circle cx="617.85" cy="220.12" r="1.12" fill="#2d80c1"/>
<circle cx="620.25" cy="220.28" r="1.12" fill="#2d80c1"/>
<circle cx="621.87" cy="220.25" r="1.12" fill="#2d80c1"/>
<circle cx="623.87" cy="220.24" r="1.12" fill="#2d80c1"/>
<circle cx="625.62" cy="220.34" r="1.12" fill="#2d80c1"/>
<circle cx="627.3" cy="220.53" r="1.12" fill="#2d80c1"/>
<circle cx="616.58" cy="221.98" r="1.12" fill="#2d80c1"/>
<circle cx="618.58" cy="221.85" r="1.12" fill="#2d80c1"/>
<circle cx="619.74" cy="222.01" r="1.12" fill="#2d80c1"/>
<circle cx="621.93" cy="222.33" r="1.12" fill="#2d80c1"/>
<circle cx="623.37" cy="221.9" r="1.12" fill="#2d80c1"/>
<circle cx="625.65" cy="221.8" r="1.12" fill="#2d80c1"/>
<circle cx="627.49" cy="221.94" r="1.12" fill="#2d80c1"/>
<circle cx="615.93" cy="223.68" r="1.12" fill="#2d80c1"/>
<circle cx="617.89" cy="223.46" r="1.12" fill="#2d80c1"/>
<circle cx="619.52" cy="223.96" r="1.12" fill="#2d80c1"/>
<circle cx="620.96" cy="223.78" r="1.12" fill="#2d80c1"/>
<circle cx="622.58" cy="223.7" r="1.12" fill="#2d80c1"/>
<circle cx="624.18" cy="223.86" r="1.12" fill="#2d80c1"/>
<circle cx="626.29" cy="223.46" r="1.12" fill="#2d80c1"/>
<circle cx="627.52" cy="223.54" r="1.12" fill="#2d80c1"/>
<circle cx="616.1" cy="225.38" r="1.12" fill="#2d80c1"/>
<circle cx="617.81" cy="225.63" r="1.12" fill="#2d80c1"/>
<circle cx="620.24" cy="225.41" r="1.12" fill="#2d80c1"/>
<circle cx="621.84" cy="225.78" r="1.12" fill="#2d80c1"/>
<circle cx="623.37" cy="225.33" r="1.12" fill="#2d80c1"/>
<circle cx="625.26" cy="225.28" r="1.12" fill="#2d80c1"/>
<circle cx="627.16" cy="225.37" r="1.12" fill="#2d80c1"/>
<circle cx="617.04" cy="227.58" r="1.12" fill="#2d80c1"/>
<circle cx="619.05" cy="227.36" r="1.12" fill="#2d80c1"/>
<circle cx="620.77" cy="227.42" r="1.12" fill="#2d80c1"/>
<circle cx="622.73" cy="227.3" r="1.12" fill="#2d80c1"/>
<circle cx="624.49" cy="227.32" r="1.12" fill="#2d80c1"/>
<circle cx="626.58" cy="227.47" r="1.12" fill="#2d80c1"/>
<circle cx="618.62" cy="229.1" r="1.12" fill="#2d80c1"/>
<circle cx="619.81" cy="229.19" r="1.12" fill="#2d80c1"/>
<circle cx="621.72" cy="228.97" r="1.12" fill="#2d80c1"/>
<circle cx="623.4" cy="229.13" r="1.12" fill="#2d80c1"/>
<circle cx="625.47" cy="229.46" r="1.12" fill="#2d80c1"/>
<circle cx="619.18" cy="230.85" r="1.12" fill="#2d80c1"/>
<circle cx="621.18" cy="231.08" r="1.12" fill="#2d80c1"/>
<circle cx="622.78" cy="230.88" r="1.12" fill="#2d80c1"/>
<circle cx="624.07" cy="231.06" r="1.12" fill="#2d80c1"/>
<circle cx="619.72" cy="232.65" r="1.12" fill="#2d80c1"/>
<circle cx="621.54" cy="232.51" r="1.12" fill="#2d80c1"/>
<circle cx="623.91" cy="232.86" r="1.12" fill="#2d80c1"/>
<circle cx="620.74" cy="234.32" r="1.12" fill="#2d80c1"/>
<circle cx="622.82" cy="234.86" r="1.12" fill="#2d80c1"/>
<circle cx="621.56" cy="236.46" r="1.12" fill="#2d80c1"/>
<circle cx="622.41" cy="236.17" r="1.12" fill="#2d80c1"/>
<circle cx="621.64" cy="238.42" r="1.12" fill="#2d80c1"/>
<circle cx="621.8" cy="179.8" r="1.12" fill="#2d80c1"/>
<circle cx="621.8" cy="242" r="1.12" fill="#2d80c1"/>
<line x1="621.8" y1="219" x2="621.8" y2="223" stroke="#3a8fcf" stroke-width="1.0"/>
<line x1="618.8" y1="219" x2="624.8" y2="219" stroke="#3a8fcf" stroke-width="1.0"/>
<path d="M638.8,242.2 V215.3 H656.2 V242.2" fill="none" stroke="#d86a5a" stroke-width="1.55"/>
<rect x="642.06" y="208.8" width="1.7" height="1.7" fill="#d46050"/>
<rect x="644.47" y="209.27" width="1.7" height="1.7" fill="#d46050"/>
<rect x="649.69" y="208.73" width="1.7" height="1.7" fill="#d46050"/>
<rect x="654.23" y="208.79" width="1.7" height="1.7" fill="#d46050"/>
<rect x="639.79" y="211.14" width="1.7" height="1.7" fill="#d46050"/>
<rect x="642.39" y="211.35" width="1.7" height="1.7" fill="#d46050"/>
<rect x="644.75" y="210.76" width="1.7" height="1.7" fill="#d46050"/>
<rect x="649.13" y="210.98" width="1.7" height="1.7" fill="#d46050"/>
<rect x="642.2" y="213.28" width="1.7" height="1.7" fill="#d46050"/>
<rect x="644.75" y="212.91" width="1.7" height="1.7" fill="#d46050"/>
<rect x="647.13" y="213.32" width="1.7" height="1.7" fill="#d46050"/>
<rect x="652.38" y="213.01" width="1.7" height="1.7" fill="#d46050"/>
<rect x="654.66" y="213.49" width="1.7" height="1.7" fill="#d46050"/>
<rect x="639.63" y="215.53" width="1.7" height="1.7" fill="#d46050"/>
<rect x="642.09" y="215.09" width="1.7" height="1.7" fill="#d46050"/>
<rect x="644.39" y="215.16" width="1.7" height="1.7" fill="#d46050"/>
<rect x="646.85" y="215.21" width="1.7" height="1.7" fill="#d46050"/>
<rect x="649.69" y="215.33" width="1.7" height="1.7" fill="#d46050"/>
<rect x="651.87" y="215.07" width="1.7" height="1.7" fill="#d46050"/>
<rect x="654.16" y="215.57" width="1.7" height="1.7" fill="#d46050"/>
<rect x="640.84" y="217.5" width="1.7" height="1.7" fill="#d46050"/>
<rect x="642.92" y="217.38" width="1.7" height="1.7" fill="#d46050"/>
<rect x="644.96" y="217.45" width="1.7" height="1.7" fill="#d46050"/>
<rect x="647.3" y="217.49" width="1.7" height="1.7" fill="#d46050"/>
<rect x="649.03" y="217.46" width="1.7" height="1.7" fill="#d46050"/>
<rect x="651.16" y="217.54" width="1.7" height="1.7" fill="#d46050"/>
<rect x="653.71" y="217.7" width="1.7" height="1.7" fill="#d46050"/>
<rect x="641.56" y="219.15" width="1.7" height="1.7" fill="#d46050"/>
<rect x="643.94" y="219.39" width="1.7" height="1.7" fill="#d46050"/>
<rect x="646.09" y="219.37" width="1.7" height="1.7" fill="#d46050"/>
<rect x="648.34" y="219.39" width="1.7" height="1.7" fill="#d46050"/>
<rect x="650.45" y="219.42" width="1.7" height="1.7" fill="#d46050"/>
<rect x="652.46" y="219.26" width="1.7" height="1.7" fill="#d46050"/>
<rect x="642.6" y="221.43" width="1.7" height="1.7" fill="#d46050"/>
<rect x="644.55" y="221.45" width="1.7" height="1.7" fill="#d46050"/>
<rect x="647.03" y="221.6" width="1.7" height="1.7" fill="#d46050"/>
<rect x="651.55" y="221.31" width="1.7" height="1.7" fill="#d46050"/>
<rect x="643.53" y="223.41" width="1.7" height="1.7" fill="#d46050"/>
<rect x="645.74" y="223.89" width="1.7" height="1.7" fill="#d46050"/>
<rect x="648.66" y="223.9" width="1.7" height="1.7" fill="#d46050"/>
<rect x="646.78" y="226.08" width="1.7" height="1.7" fill="#d46050"/>
<rect x="648.97" y="225.83" width="1.7" height="1.7" fill="#d46050"/>
<rect x="647.05" y="181.45" width="1.7" height="1.7" fill="#d46050"/>
<rect x="647.05" y="193.75" width="1.7" height="1.7" fill="#d46050"/>
<rect x="647.05" y="202.85" width="1.7" height="1.7" fill="#d46050"/>
<rect x="647.05" y="205.65" width="1.7" height="1.7" fill="#d46050"/>
<line x1="647.9" y1="213.3" x2="647.9" y2="217.3" stroke="#d86a5a" stroke-width="1.0"/>
<line x1="644.9" y1="213.3" x2="650.9" y2="213.3" stroke="#d86a5a" stroke-width="1.0"/>
<line x1="604.6" y1="164.95" x2="604.6" y2="242.2" stroke="#111" stroke-width="1.2"/>
<line x1="600" y1="242.2" x2="665" y2="242.2" stroke="#111" stroke-width="1.2"/>
<text x="598.8" y="246.5" style="font-family:'Liberation Serif',serif;font-size:8.45px;font-weight:bold" text-anchor="end" fill="#111">0</text>
<line x1="600.4" y1="216.45" x2="604.6" y2="216.45" stroke="#111" stroke-width="1.1"/>
<text x="597.7" y="220.75" style="font-family:'Liberation Serif',serif;font-size:8.45px;font-weight:bold" text-anchor="end" fill="#111">1×10</text>
<text x="597.7" y="217.55" style="font-family:'Liberation Serif',serif;font-size:5.3px;font-weight:bold" fill="#111">7</text>
<line x1="600.4" y1="190.7" x2="604.6" y2="190.7" stroke="#111" stroke-width="1.1"/>
<text x="597.7" y="195" style="font-family:'Liberation Serif',serif;font-size:8.45px;font-weight:bold" text-anchor="end" fill="#111">2×10</text>
<text x="597.7" y="191.8" style="font-family:'Liberation Serif',serif;font-size:5.3px;font-weight:bold" fill="#111">7</text>
<line x1="600.4" y1="164.95" x2="604.6" y2="164.95" stroke="#111" stroke-width="1.1"/>
<text x="597.7" y="169.25" style="font-family:'Liberation Serif',serif;font-size:8.45px;font-weight:bold" text-anchor="end" fill="#111">3×10</text>
<text x="597.7" y="166.05" style="font-family:'Liberation Serif',serif;font-size:5.3px;font-weight:bold" fill="#111">7</text>
<line x1="621.8" y1="242.2" x2="621.8" y2="245.7" stroke="#111" stroke-width="1.1"/>
<line x1="647.9" y1="242.2" x2="647.9" y2="245.7" stroke="#111" stroke-width="1.1"/>
<line x1="619.4" y1="171.9" x2="649.8" y2="171.9" stroke="#000" stroke-width="1.3"/>
<polygon points="630.65,167.25 631.21,168.63 632.69,168.74 631.55,169.69 631.91,171.14 630.65,170.35 629.39,171.14 629.75,169.69 628.61,168.74 630.09,168.63" fill="#111"/>
<polygon points="635.1,167.25 635.66,168.63 637.14,168.74 636,169.69 636.36,171.14 635.1,170.35 633.84,171.14 634.2,169.69 633.06,168.74 634.54,168.63" fill="#111"/>
<polygon points="639.55,167.25 640.11,168.63 641.59,168.74 640.45,169.69 640.81,171.14 639.55,170.35 638.29,171.14 638.65,169.69 637.51,168.74 638.99,168.63" fill="#111"/>
<text x="587.3" y="254.1" style="font-family:'Liberation Serif',serif;font-size:7.8px;font-weight:bold" fill="#111" textLength="43.8" lengthAdjust="spacingAndGlyphs">suspected PE</text>
<text x="631.1" y="250.9" style="font-family:'Liberation Serif',serif;font-size:4.6px;font-weight:bold" fill="#111">−</text>
<text x="638.8" y="254.1" style="font-family:'Liberation Serif',serif;font-size:7.8px;font-weight:bold" fill="#111" textLength="43.7" lengthAdjust="spacingAndGlyphs">suspected PE</text>
<text x="682.5" y="250.9" style="font-family:'Liberation Serif',serif;font-size:4.6px;font-weight:bold" fill="#111">+</text>
<text x="423.1" y="273.9" style="font-family:'Liberation Serif',serif;font-size:9px;font-weight:bold" fill="#111" textLength="200.4" lengthAdjust="spacingAndGlyphs">2-methyl-3-hydroxy-5-formylpyridine-4-carboxylate</text>
<text x="448" y="335" style="font-family:'Liberation Serif',serif;font-size:8.4px;font-weight:bold" fill="#111" text-anchor="middle" transform="rotate(-90 448 335)" textLength="71" lengthAdjust="spacingAndGlyphs">Relative abundance</text>
<path d="M492,374.7 V335 H509.1 V374.7" fill="none" stroke="#3a8fcf" stroke-width="1.55"/>
<circle cx="500.28" cy="297.46" r="1.12" fill="#2d80c1"/>
<circle cx="501.68" cy="299.81" r="1.12" fill="#2d80c1"/>
<circle cx="499.79" cy="301.3" r="1.12" fill="#2d80c1"/>
<circle cx="501.85" cy="301.53" r="1.12" fill="#2d80c1"/>
<circle cx="499.03" cy="303.19" r="1.12" fill="#2d80c1"/>
<circle cx="500.44" cy="303.19" r="1.12" fill="#2d80c1"/>
<circle cx="501.9" cy="303.42" r="1.12" fill="#2d80c1"/>
<circle cx="498.87" cy="304.68" r="1.12" fill="#2d80c1"/>
<circle cx="500.32" cy="304.78" r="1.12" fill="#2d80c1"/>
<circle cx="502.24" cy="305.04" r="1.12" fill="#2d80c1"/>
<circle cx="498.65" cy="306.75" r="1.12" fill="#2d80c1"/>
<circle cx="500.35" cy="306.59" r="1.12" fill="#2d80c1"/>
<circle cx="502.42" cy="307.07" r="1.12" fill="#2d80c1"/>
<circle cx="498.15" cy="308.44" r="1.12" fill="#2d80c1"/>
<circle cx="500.1" cy="308.92" r="1.12" fill="#2d80c1"/>
<circle cx="501.65" cy="308.63" r="1.12" fill="#2d80c1"/>
<circle cx="502.71" cy="308.71" r="1.12" fill="#2d80c1"/>
<circle cx="498.22" cy="310.32" r="1.12" fill="#2d80c1"/>
<circle cx="500.06" cy="310.51" r="1.12" fill="#2d80c1"/>
<circle cx="501.46" cy="310.56" r="1.12" fill="#2d80c1"/>
<circle cx="502.69" cy="310.12" r="1.12" fill="#2d80c1"/>
<circle cx="498.16" cy="312.2" r="1.12" fill="#2d80c1"/>
<circle cx="499.77" cy="312.43" r="1.12" fill="#2d80c1"/>
<circle cx="501.7" cy="312.37" r="1.12" fill="#2d80c1"/>
<circle cx="503" cy="312.06" r="1.12" fill="#2d80c1"/>
<circle cx="497.9" cy="313.7" r="1.12" fill="#2d80c1"/>
<circle cx="499.53" cy="314.25" r="1.12" fill="#2d80c1"/>
<circle cx="501.25" cy="313.88" r="1.12" fill="#2d80c1"/>
<circle cx="503.35" cy="314.03" r="1.12" fill="#2d80c1"/>
<circle cx="497.44" cy="315.48" r="1.12" fill="#2d80c1"/>
<circle cx="501.45" cy="315.57" r="1.12" fill="#2d80c1"/>
<circle cx="503.25" cy="315.56" r="1.12" fill="#2d80c1"/>
<circle cx="497.42" cy="317.75" r="1.12" fill="#2d80c1"/>
<circle cx="498.88" cy="317.78" r="1.12" fill="#2d80c1"/>
<circle cx="500.83" cy="317.62" r="1.12" fill="#2d80c1"/>
<circle cx="501.87" cy="317.38" r="1.12" fill="#2d80c1"/>
<circle cx="503.84" cy="317.68" r="1.12" fill="#2d80c1"/>
<circle cx="496.88" cy="319.27" r="1.12" fill="#2d80c1"/>
<circle cx="499.01" cy="319.22" r="1.12" fill="#2d80c1"/>
<circle cx="500.63" cy="319.32" r="1.12" fill="#2d80c1"/>
<circle cx="502.57" cy="319.28" r="1.12" fill="#2d80c1"/>
<circle cx="504.26" cy="319.25" r="1.12" fill="#2d80c1"/>
<circle cx="498.73" cy="321.44" r="1.12" fill="#2d80c1"/>
<circle cx="500.86" cy="321.04" r="1.12" fill="#2d80c1"/>
<circle cx="502.72" cy="321.44" r="1.12" fill="#2d80c1"/>
<circle cx="504.53" cy="321.22" r="1.12" fill="#2d80c1"/>
<circle cx="496.7" cy="322.71" r="1.12" fill="#2d80c1"/>
<circle cx="498.66" cy="323.04" r="1.12" fill="#2d80c1"/>
<circle cx="500.56" cy="322.67" r="1.12" fill="#2d80c1"/>
<circle cx="502.21" cy="323.07" r="1.12" fill="#2d80c1"/>
<circle cx="504.37" cy="323.11" r="1.12" fill="#2d80c1"/>
<circle cx="496.49" cy="324.59" r="1.12" fill="#2d80c1"/>
<circle cx="497.93" cy="324.6" r="1.12" fill="#2d80c1"/>
<circle cx="500.13" cy="324.88" r="1.12" fill="#2d80c1"/>
<circle cx="501.06" cy="324.69" r="1.12" fill="#2d80c1"/>
<circle cx="503.29" cy="324.49" r="1.12" fill="#2d80c1"/>
<circle cx="497.75" cy="326.89" r="1.12" fill="#2d80c1"/>
<circle cx="499.44" cy="326.66" r="1.12" fill="#2d80c1"/>
<circle cx="501.72" cy="326.41" r="1.12" fill="#2d80c1"/>
<circle cx="503.17" cy="326.91" r="1.12" fill="#2d80c1"/>
<circle cx="496.62" cy="328.62" r="1.12" fill="#2d80c1"/>
<circle cx="498.97" cy="328.5" r="1.12" fill="#2d80c1"/>
<circle cx="500.33" cy="328.56" r="1.12" fill="#2d80c1"/>
<circle cx="502.41" cy="328.48" r="1.12" fill="#2d80c1"/>
<circle cx="504.07" cy="328.39" r="1.12" fill="#2d80c1"/>
<circle cx="506.12" cy="328.32" r="1.12" fill="#2d80c1"/>
<circle cx="493.7" cy="330.38" r="1.12" fill="#2d80c1"/>
<circle cx="495.64" cy="330.17" r="1.12" fill="#2d80c1"/>
<circle cx="498.72" cy="330.2" r="1.12" fill="#2d80c1"/>
<circle cx="500.64" cy="330.09" r="1.12" fill="#2d80c1"/>
<circle cx="501.93" cy="330.32" r="1.12" fill="#2d80c1"/>
<circle cx="504.07" cy="330.44" r="1.12" fill="#2d80c1"/>
<circle cx="507.16" cy="330.37" r="1.12" fill="#2d80c1"/>
<circle cx="493.59" cy="332.07" r="1.12" fill="#2d80c1"/>
<circle cx="495.78" cy="332.3" r="1.12" fill="#2d80c1"/>
<circle cx="497.25" cy="331.89" r="1.12" fill="#2d80c1"/>
<circle cx="498.6" cy="331.89" r="1.12" fill="#2d80c1"/>
<circle cx="500.53" cy="332.11" r="1.12" fill="#2d80c1"/>
<circle cx="502.02" cy="331.74" r="1.12" fill="#2d80c1"/>
<circle cx="504.34" cy="332.04" r="1.12" fill="#2d80c1"/>
<circle cx="506.01" cy="331.79" r="1.12" fill="#2d80c1"/>
<circle cx="507.47" cy="332.06" r="1.12" fill="#2d80c1"/>
<circle cx="494.32" cy="333.88" r="1.12" fill="#2d80c1"/>
<circle cx="495.91" cy="333.5" r="1.12" fill="#2d80c1"/>
<circle cx="497.67" cy="333.68" r="1.12" fill="#2d80c1"/>
<circle cx="499.52" cy="334.14" r="1.12" fill="#2d80c1"/>
<circle cx="501.78" cy="333.62" r="1.12" fill="#2d80c1"/>
<circle cx="505.21" cy="333.62" r="1.12" fill="#2d80c1"/>
<circle cx="507.09" cy="333.96" r="1.12" fill="#2d80c1"/>
<circle cx="494.42" cy="335.47" r="1.12" fill="#2d80c1"/>
<circle cx="496.35" cy="335.37" r="1.12" fill="#2d80c1"/>
<circle cx="498.07" cy="335.83" r="1.12" fill="#2d80c1"/>
<circle cx="499.95" cy="335.29" r="1.12" fill="#2d80c1"/>
<circle cx="501.31" cy="335.41" r="1.12" fill="#2d80c1"/>
<circle cx="504.74" cy="335.94" r="1.12" fill="#2d80c1"/>
<circle cx="506.78" cy="335.57" r="1.12" fill="#2d80c1"/>
<circle cx="495.46" cy="337.61" r="1.12" fill="#2d80c1"/>
<circle cx="497.05" cy="337.5" r="1.12" fill="#2d80c1"/>
<circle cx="498.91" cy="337.3" r="1.12" fill="#2d80c1"/>
<circle cx="500.55" cy="337.19" r="1.12" fill="#2d80c1"/>
<circle cx="502.72" cy="337.34" r="1.12" fill="#2d80c1"/>
<circle cx="504.02" cy="337.43" r="1.12" fill="#2d80c1"/>
<circle cx="506.23" cy="337.51" r="1.12" fill="#2d80c1"/>
<circle cx="495.2" cy="338.86" r="1.12" fill="#2d80c1"/>
<circle cx="497.3" cy="339.44" r="1.12" fill="#2d80c1"/>
<circle cx="500.76" cy="338.98" r="1.12" fill="#2d80c1"/>
<circle cx="502.47" cy="339.03" r="1.12" fill="#2d80c1"/>
<circle cx="504.25" cy="338.9" r="1.12" fill="#2d80c1"/>
<circle cx="505.53" cy="339.24" r="1.12" fill="#2d80c1"/>
<circle cx="496.03" cy="341.13" r="1.12" fill="#2d80c1"/>
<circle cx="499.86" cy="341.2" r="1.12" fill="#2d80c1"/>
<circle cx="501.58" cy="341.03" r="1.12" fill="#2d80c1"/>
<circle cx="503.15" cy="340.86" r="1.12" fill="#2d80c1"/>
<circle cx="505.08" cy="341.14" r="1.12" fill="#2d80c1"/>
<circle cx="496.07" cy="343.09" r="1.12" fill="#2d80c1"/>
<circle cx="497.85" cy="342.79" r="1.12" fill="#2d80c1"/>
<circle cx="499.37" cy="342.83" r="1.12" fill="#2d80c1"/>
<circle cx="501.64" cy="342.54" r="1.12" fill="#2d80c1"/>
<circle cx="503.49" cy="342.55" r="1.12" fill="#2d80c1"/>
<circle cx="504.78" cy="342.79" r="1.12" fill="#2d80c1"/>
<circle cx="496.17" cy="344.48" r="1.12" fill="#2d80c1"/>
<circle cx="497.85" cy="344.39" r="1.12" fill="#2d80c1"/>
<circle cx="499.68" cy="344.55" r="1.12" fill="#2d80c1"/>
<circle cx="501.5" cy="344.42" r="1.12" fill="#2d80c1"/>
<circle cx="503.19" cy="344.82" r="1.12" fill="#2d80c1"/>
<circle cx="504.59" cy="344.48" r="1.12" fill="#2d80c1"/>
<circle cx="496.71" cy="346.3" r="1.12" fill="#2d80c1"/>
<circle cx="498.38" cy="346.24" r="1.12" fill="#2d80c1"/>
<circle cx="502.64" cy="346.13" r="1.12" fill="#2d80c1"/>
<circle cx="504.79" cy="346.11" r="1.12" fill="#2d80c1"/>
<circle cx="497.02" cy="348.27" r="1.12" fill="#2d80c1"/>
<circle cx="498.74" cy="348.14" r="1.12" fill="#2d80c1"/>
<circle cx="502.41" cy="347.85" r="1.12" fill="#2d80c1"/>
<circle cx="497.89" cy="349.94" r="1.12" fill="#2d80c1"/>
<circle cx="499.5" cy="350.18" r="1.12" fill="#2d80c1"/>
<circle cx="503.71" cy="350.05" r="1.12" fill="#2d80c1"/>
<circle cx="498.41" cy="351.51" r="1.12" fill="#2d80c1"/>
<circle cx="499.56" cy="351.83" r="1.12" fill="#2d80c1"/>
<circle cx="502.83" cy="351.86" r="1.12" fill="#2d80c1"/>
<circle cx="498.52" cy="353.84" r="1.12" fill="#2d80c1"/>
<circle cx="500.16" cy="353.66" r="1.12" fill="#2d80c1"/>
<circle cx="501.02" cy="353.69" r="1.12" fill="#2d80c1"/>
<circle cx="503.07" cy="353.4" r="1.12" fill="#2d80c1"/>
<circle cx="498.58" cy="355.75" r="1.12" fill="#2d80c1"/>
<circle cx="499.94" cy="355.19" r="1.12" fill="#2d80c1"/>
<circle cx="501.71" cy="355.19" r="1.12" fill="#2d80c1"/>
<circle cx="503.24" cy="355.19" r="1.12" fill="#2d80c1"/>
<circle cx="498.18" cy="357.39" r="1.12" fill="#2d80c1"/>
<circle cx="500.1" cy="357.42" r="1.12" fill="#2d80c1"/>
<circle cx="501.25" cy="357.5" r="1.12" fill="#2d80c1"/>
<circle cx="497.69" cy="358.92" r="1.12" fill="#2d80c1"/>
<circle cx="500" cy="359.31" r="1.12" fill="#2d80c1"/>
<circle cx="501.42" cy="359.12" r="1.12" fill="#2d80c1"/>
<circle cx="497.96" cy="360.72" r="1.12" fill="#2d80c1"/>
<circle cx="499.54" cy="360.65" r="1.12" fill="#2d80c1"/>
<circle cx="501.61" cy="360.48" r="1.12" fill="#2d80c1"/>
<circle cx="497.94" cy="362.64" r="1.12" fill="#2d80c1"/>
<circle cx="499.94" cy="362.67" r="1.12" fill="#2d80c1"/>
<circle cx="501.82" cy="362.89" r="1.12" fill="#2d80c1"/>
<circle cx="503.47" cy="362.7" r="1.12" fill="#2d80c1"/>
<circle cx="497.31" cy="364.29" r="1.12" fill="#2d80c1"/>
<circle cx="499.4" cy="366.18" r="1.12" fill="#2d80c1"/>
<circle cx="501.52" cy="366.19" r="1.12" fill="#2d80c1"/>
<circle cx="503.57" cy="365.92" r="1.12" fill="#2d80c1"/>
<circle cx="498.05" cy="368.2" r="1.12" fill="#2d80c1"/>
<circle cx="500.05" cy="367.77" r="1.12" fill="#2d80c1"/>
<circle cx="501.01" cy="368.19" r="1.12" fill="#2d80c1"/>
<circle cx="502.64" cy="368.15" r="1.12" fill="#2d80c1"/>
<circle cx="498.83" cy="369.65" r="1.12" fill="#2d80c1"/>
<circle cx="502.47" cy="369.87" r="1.12" fill="#2d80c1"/>
<line x1="500.6" y1="333" x2="500.6" y2="337" stroke="#3a8fcf" stroke-width="1.0"/>
<line x1="497.6" y1="333" x2="503.6" y2="333" stroke="#3a8fcf" stroke-width="1.0"/>
<path d="M518.3,374.7 V345.9 H534.6 V374.7" fill="none" stroke="#d86a5a" stroke-width="1.55"/>
<rect x="529.32" y="307.52" width="1.7" height="1.7" fill="#d46050"/>
<rect x="524.09" y="309.41" width="1.7" height="1.7" fill="#d46050"/>
<rect x="527.09" y="309.7" width="1.7" height="1.7" fill="#d46050"/>
<rect x="526.97" y="311.62" width="1.7" height="1.7" fill="#d46050"/>
<rect x="523.33" y="313.85" width="1.7" height="1.7" fill="#d46050"/>
<rect x="525.31" y="313.65" width="1.7" height="1.7" fill="#d46050"/>
<rect x="530.09" y="316.11" width="1.7" height="1.7" fill="#d46050"/>
<rect x="520.93" y="318.09" width="1.7" height="1.7" fill="#d46050"/>
<rect x="520.63" y="319.77" width="1.7" height="1.7" fill="#d46050"/>
<rect x="525.72" y="320.1" width="1.7" height="1.7" fill="#d46050"/>
<rect x="522.86" y="322.07" width="1.7" height="1.7" fill="#d46050"/>
<rect x="520.18" y="324.27" width="1.7" height="1.7" fill="#d46050"/>
<rect x="528.3" y="323.93" width="1.7" height="1.7" fill="#d46050"/>
<rect x="530.94" y="324.28" width="1.7" height="1.7" fill="#d46050"/>
<rect x="520.07" y="328.54" width="1.7" height="1.7" fill="#d46050"/>
<rect x="522.29" y="328.32" width="1.7" height="1.7" fill="#d46050"/>
<rect x="526.9" y="328.74" width="1.7" height="1.7" fill="#d46050"/>
<rect x="530.77" y="328.47" width="1.7" height="1.7" fill="#d46050"/>
<rect x="522.39" y="332.42" width="1.7" height="1.7" fill="#d46050"/>
<rect x="526.44" y="332.7" width="1.7" height="1.7" fill="#d46050"/>
<rect x="524.67" y="336.61" width="1.7" height="1.7" fill="#d46050"/>
<rect x="526.65" y="336.66" width="1.7" height="1.7" fill="#d46050"/>
<rect x="528.88" y="337.12" width="1.7" height="1.7" fill="#d46050"/>
<rect x="531.1" y="336.77" width="1.7" height="1.7" fill="#d46050"/>
<rect x="520.27" y="339.19" width="1.7" height="1.7" fill="#d46050"/>
<rect x="524.58" y="339.2" width="1.7" height="1.7" fill="#d46050"/>
<rect x="519.93" y="341.18" width="1.7" height="1.7" fill="#d46050"/>
<rect x="522.18" y="341.36" width="1.7" height="1.7" fill="#d46050"/>
<rect x="524.15" y="341.37" width="1.7" height="1.7" fill="#d46050"/>
<rect x="528.64" y="340.92" width="1.7" height="1.7" fill="#d46050"/>
<rect x="522.08" y="342.82" width="1.7" height="1.7" fill="#d46050"/>
<rect x="526.68" y="343.07" width="1.7" height="1.7" fill="#d46050"/>
<rect x="529.13" y="343.12" width="1.7" height="1.7" fill="#d46050"/>
<rect x="522.32" y="345.57" width="1.7" height="1.7" fill="#d46050"/>
<rect x="529.09" y="345.05" width="1.7" height="1.7" fill="#d46050"/>
<rect x="524.29" y="347.16" width="1.7" height="1.7" fill="#d46050"/>
<rect x="520.47" y="349.31" width="1.7" height="1.7" fill="#d46050"/>
<rect x="522.42" y="351.43" width="1.7" height="1.7" fill="#d46050"/>
<rect x="524.53" y="351.43" width="1.7" height="1.7" fill="#d46050"/>
<rect x="530.97" y="351.48" width="1.7" height="1.7" fill="#d46050"/>
<rect x="522.61" y="353.88" width="1.7" height="1.7" fill="#d46050"/>
<rect x="524.2" y="353.76" width="1.7" height="1.7" fill="#d46050"/>
<rect x="528.5" y="353.36" width="1.7" height="1.7" fill="#d46050"/>
<rect x="524.58" y="356.09" width="1.7" height="1.7" fill="#d46050"/>
<rect x="531.07" y="355.71" width="1.7" height="1.7" fill="#d46050"/>
<rect x="525.66" y="357.94" width="1.7" height="1.7" fill="#d46050"/>
<rect x="528.24" y="360.06" width="1.7" height="1.7" fill="#d46050"/>
<rect x="527.73" y="364.1" width="1.7" height="1.7" fill="#d46050"/>
<rect x="523.11" y="365.97" width="1.7" height="1.7" fill="#d46050"/>
<rect x="527.76" y="366.25" width="1.7" height="1.7" fill="#d46050"/>
<rect x="529.96" y="365.93" width="1.7" height="1.7" fill="#d46050"/>
<rect x="521.32" y="368.19" width="1.7" height="1.7" fill="#d46050"/>
<rect x="525.39" y="368.3" width="1.7" height="1.7" fill="#d46050"/>
<rect x="523.43" y="370.13" width="1.7" height="1.7" fill="#d46050"/>
<rect x="527.38" y="370.33" width="1.7" height="1.7" fill="#d46050"/>
<line x1="526.4" y1="343.9" x2="526.4" y2="347.9" stroke="#d86a5a" stroke-width="1.0"/>
<line x1="523.4" y1="343.9" x2="529.4" y2="343.9" stroke="#d86a5a" stroke-width="1.0"/>
<line x1="483.6" y1="291.6" x2="483.6" y2="374.7" stroke="#111" stroke-width="1.2"/>
<line x1="480.3" y1="374.7" x2="544.2" y2="374.7" stroke="#111" stroke-width="1.2"/>
<text x="478.9" y="379" style="font-family:'Liberation Serif',serif;font-size:8.5px;font-weight:bold" text-anchor="end" fill="#111">0</text>
<line x1="479.4" y1="347" x2="483.6" y2="347" stroke="#111" stroke-width="1.1"/>
<text x="473.6" y="351.3" style="font-family:'Liberation Serif',serif;font-size:8.5px;font-weight:bold" text-anchor="end" fill="#111">5×10</text>
<text x="473.6" y="348.1" style="font-family:'Liberation Serif',serif;font-size:5.3px;font-weight:bold" fill="#111">5</text>
<line x1="479.4" y1="319.3" x2="483.6" y2="319.3" stroke="#111" stroke-width="1.1"/>
<text x="474.2" y="323.6" style="font-family:'Liberation Serif',serif;font-size:8.5px;font-weight:bold" text-anchor="end" fill="#111">1×10</text>
<text x="474.2" y="320.4" style="font-family:'Liberation Serif',serif;font-size:5.3px;font-weight:bold" fill="#111">6</text>
<line x1="479.4" y1="291.6" x2="483.6" y2="291.6" stroke="#111" stroke-width="1.1"/>
<text x="477.8" y="295.9" style="font-family:'Liberation Serif',serif;font-size:8.5px;font-weight:bold" text-anchor="end" fill="#111">1.5×10</text>
<text x="477.8" y="292.7" style="font-family:'Liberation Serif',serif;font-size:5.3px;font-weight:bold" fill="#111">6</text>
<line x1="500.6" y1="374.7" x2="500.6" y2="378.2" stroke="#111" stroke-width="1.1"/>
<line x1="526.4" y1="374.7" x2="526.4" y2="378.2" stroke="#111" stroke-width="1.1"/>
<line x1="497.2" y1="293.3" x2="529.9" y2="293.3" stroke="#000" stroke-width="1.3"/>
<polygon points="509.45,286.05 510.01,287.43 511.49,287.54 510.35,288.49 510.71,289.94 509.45,289.15 508.19,289.94 508.55,288.49 507.41,287.54 508.89,287.43" fill="#111"/>
<polygon points="513.9,286.05 514.46,287.43 515.94,287.54 514.8,288.49 515.16,289.94 513.9,289.15 512.64,289.94 513,288.49 511.86,287.54 513.34,287.43" fill="#111"/>
<polygon points="518.35,286.05 518.91,287.43 520.39,287.54 519.25,288.49 519.61,289.94 518.35,289.15 517.09,289.94 517.45,288.49 516.31,287.54 517.79,287.43" fill="#111"/>
<text x="464.5" y="386.2" style="font-family:'Liberation Serif',serif;font-size:7.8px;font-weight:bold" fill="#111" textLength="43.7" lengthAdjust="spacingAndGlyphs">suspected PE</text>
<text x="508.2" y="383" style="font-family:'Liberation Serif',serif;font-size:4.6px;font-weight:bold" fill="#111">−</text>
<text x="515.4" y="386.2" style="font-family:'Liberation Serif',serif;font-size:7.8px;font-weight:bold" fill="#111" textLength="42.6" lengthAdjust="spacingAndGlyphs">suspected PE</text>
<text x="558" y="383" style="font-family:'Liberation Serif',serif;font-size:4.6px;font-weight:bold" fill="#111">+</text>
</g>
</svg></body></html>
